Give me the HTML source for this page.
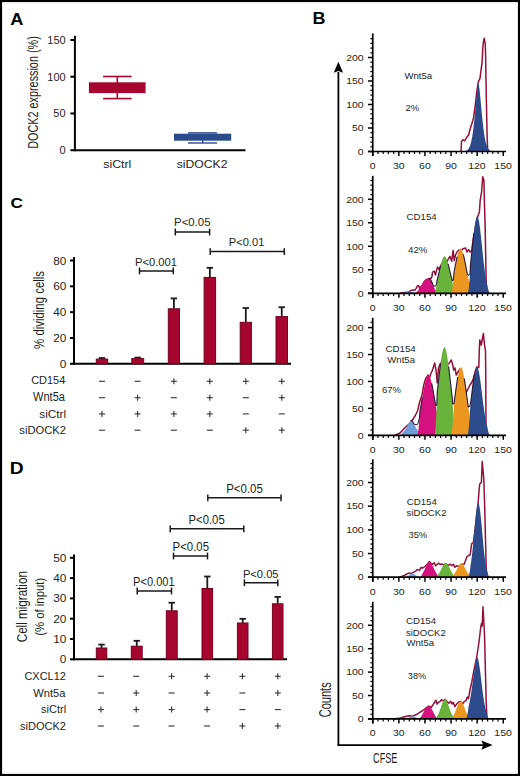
<!DOCTYPE html><html><head><meta charset="utf-8"><style>html,body{margin:0;padding:0;background:#fff}svg{display:block}text{font-family:'Liberation Sans',sans-serif}</style></head><body>
<svg width="520" height="776" viewBox="0 0 520 776">
<rect x="0" y="0" width="520" height="776" fill="#fff"/>
<text x="10.34" y="24.60" font-size="16.09" textLength="13.15" lengthAdjust="spacingAndGlyphs" fill="#000" font-weight="bold">A</text>
<text x="312.58" y="24.30" font-size="16.81" textLength="13.02" lengthAdjust="spacingAndGlyphs" fill="#000" font-weight="bold">B</text>
<text x="10.56" y="207.85" font-size="14.79" textLength="12.40" lengthAdjust="spacingAndGlyphs" fill="#000" font-weight="bold">C</text>
<text x="9.75" y="473.90" font-size="16.81" textLength="13.86" lengthAdjust="spacingAndGlyphs" fill="#000" font-weight="bold">D</text>
<line x1="74.90" y1="35.80" x2="74.90" y2="151.20" stroke="#000" stroke-width="2"/>
<line x1="73.90" y1="150.20" x2="245.50" y2="150.20" stroke="#000" stroke-width="2"/>
<line x1="70.40" y1="150.20" x2="74.90" y2="150.20" stroke="#000" stroke-width="2"/>
<text x="59.49" y="153.99" font-size="10.99" textLength="6.11" lengthAdjust="spacingAndGlyphs" fill="#231f20">0</text>
<line x1="70.40" y1="113.47" x2="74.90" y2="113.47" stroke="#000" stroke-width="2"/>
<text x="53.39" y="117.26" font-size="10.99" textLength="12.22" lengthAdjust="spacingAndGlyphs" fill="#231f20">50</text>
<line x1="70.40" y1="76.73" x2="74.90" y2="76.73" stroke="#000" stroke-width="2"/>
<text x="47.29" y="80.52" font-size="10.99" textLength="18.33" lengthAdjust="spacingAndGlyphs" fill="#231f20">100</text>
<line x1="70.40" y1="40.00" x2="74.90" y2="40.00" stroke="#000" stroke-width="2"/>
<text x="47.29" y="43.79" font-size="10.99" textLength="18.33" lengthAdjust="spacingAndGlyphs" fill="#231f20">150</text>
<text transform="translate(37.90,148.77) rotate(-90)" x="0" y="0" font-size="15.36" textLength="112.54" lengthAdjust="spacingAndGlyphs" fill="#231f20">DOCK2 expression (%)</text>
<text x="103.23" y="168.19" font-size="11.02" textLength="28.10" lengthAdjust="spacingAndGlyphs" fill="#231f20">siCtrl</text>
<text x="176.73" y="168.19" font-size="11.02" textLength="50.81" lengthAdjust="spacingAndGlyphs" fill="#231f20">siDOCK2</text>
<line x1="117.30" y1="76.50" x2="117.30" y2="98.60" stroke="#a6052f" stroke-width="1.6"/>
<line x1="103.10" y1="76.50" x2="131.60" y2="76.50" stroke="#a6052f" stroke-width="1.6"/>
<line x1="103.10" y1="98.60" x2="131.60" y2="98.60" stroke="#a6052f" stroke-width="1.6"/>
<rect x="88.90" y="82.30" width="56.70" height="10.80" fill="#a6052f"/>
<rect x="174.00" y="133.70" width="57.20" height="7.00" fill="#2c4b8c"/>
<line x1="188.00" y1="132.90" x2="217.00" y2="132.90" stroke="#2c4b8c" stroke-width="1.5"/>
<line x1="188.00" y1="143.00" x2="217.00" y2="143.00" stroke="#2c4b8c" stroke-width="1.4"/>
<line x1="202.70" y1="140.00" x2="202.70" y2="143.00" stroke="#2c4b8c" stroke-width="1.4"/>
<line x1="74.00" y1="257.00" x2="74.00" y2="364.80" stroke="#000" stroke-width="2"/>
<line x1="73.00" y1="363.80" x2="291.10" y2="363.80" stroke="#000" stroke-width="2"/>
<line x1="70.00" y1="363.80" x2="74.00" y2="363.80" stroke="#000" stroke-width="2"/>
<text x="59.85" y="367.88" font-size="11.83" textLength="6.58" lengthAdjust="spacingAndGlyphs" fill="#231f20">0</text>
<line x1="70.00" y1="337.98" x2="74.00" y2="337.98" stroke="#000" stroke-width="2"/>
<text x="53.28" y="342.06" font-size="11.83" textLength="13.16" lengthAdjust="spacingAndGlyphs" fill="#231f20">20</text>
<line x1="70.00" y1="312.15" x2="74.00" y2="312.15" stroke="#000" stroke-width="2"/>
<text x="53.28" y="316.23" font-size="11.83" textLength="13.16" lengthAdjust="spacingAndGlyphs" fill="#231f20">40</text>
<line x1="70.00" y1="286.33" x2="74.00" y2="286.33" stroke="#000" stroke-width="2"/>
<text x="53.28" y="290.41" font-size="11.83" textLength="13.16" lengthAdjust="spacingAndGlyphs" fill="#231f20">60</text>
<line x1="70.00" y1="260.50" x2="74.00" y2="260.50" stroke="#000" stroke-width="2"/>
<text x="53.28" y="264.58" font-size="11.83" textLength="13.16" lengthAdjust="spacingAndGlyphs" fill="#231f20">80</text>
<line x1="102.00" y1="359.10" x2="102.00" y2="358.00" stroke="#1a1a1a" stroke-width="1.8"/>
<line x1="98.80" y1="358.00" x2="105.20" y2="358.00" stroke="#1a1a1a" stroke-width="1.8"/>
<rect x="96.30" y="359.10" width="11.40" height="4.70" fill="#a6052f" stroke="#74001c" stroke-width="1"/>
<line x1="137.75" y1="358.60" x2="137.75" y2="357.60" stroke="#1a1a1a" stroke-width="1.8"/>
<line x1="134.55" y1="357.60" x2="140.95" y2="357.60" stroke="#1a1a1a" stroke-width="1.8"/>
<rect x="131.80" y="358.60" width="11.90" height="5.20" fill="#a6052f" stroke="#74001c" stroke-width="1"/>
<line x1="173.90" y1="308.80" x2="173.90" y2="298.40" stroke="#1a1a1a" stroke-width="1.8"/>
<line x1="170.70" y1="298.40" x2="177.10" y2="298.40" stroke="#1a1a1a" stroke-width="1.8"/>
<rect x="168.30" y="308.80" width="11.20" height="55.00" fill="#a6052f" stroke="#74001c" stroke-width="1"/>
<line x1="209.85" y1="277.40" x2="209.85" y2="267.80" stroke="#1a1a1a" stroke-width="1.8"/>
<line x1="206.65" y1="267.80" x2="213.05" y2="267.80" stroke="#1a1a1a" stroke-width="1.8"/>
<rect x="204.10" y="277.40" width="11.50" height="86.40" fill="#a6052f" stroke="#74001c" stroke-width="1"/>
<line x1="245.80" y1="322.30" x2="245.80" y2="308.00" stroke="#1a1a1a" stroke-width="1.8"/>
<line x1="242.60" y1="308.00" x2="249.00" y2="308.00" stroke="#1a1a1a" stroke-width="1.8"/>
<rect x="240.20" y="322.30" width="11.20" height="41.50" fill="#a6052f" stroke="#74001c" stroke-width="1"/>
<line x1="281.75" y1="316.60" x2="281.75" y2="307.20" stroke="#1a1a1a" stroke-width="1.8"/>
<line x1="278.55" y1="307.20" x2="284.95" y2="307.20" stroke="#1a1a1a" stroke-width="1.8"/>
<rect x="276.00" y="316.60" width="11.50" height="47.20" fill="#a6052f" stroke="#74001c" stroke-width="1"/>
<line x1="99.00" y1="381.30" x2="105.00" y2="381.30" stroke="#333" stroke-width="1.1"/>
<line x1="134.60" y1="381.30" x2="140.60" y2="381.30" stroke="#333" stroke-width="1.1"/>
<line x1="170.90" y1="381.30" x2="176.90" y2="381.30" stroke="#333" stroke-width="1.1"/>
<line x1="173.90" y1="378.30" x2="173.90" y2="384.30" stroke="#333" stroke-width="1.1"/>
<line x1="206.80" y1="381.30" x2="212.80" y2="381.30" stroke="#333" stroke-width="1.1"/>
<line x1="209.80" y1="378.30" x2="209.80" y2="384.30" stroke="#333" stroke-width="1.1"/>
<line x1="242.80" y1="381.30" x2="248.80" y2="381.30" stroke="#333" stroke-width="1.1"/>
<line x1="245.80" y1="378.30" x2="245.80" y2="384.30" stroke="#333" stroke-width="1.1"/>
<line x1="278.80" y1="381.30" x2="284.80" y2="381.30" stroke="#333" stroke-width="1.1"/>
<line x1="281.80" y1="378.30" x2="281.80" y2="384.30" stroke="#333" stroke-width="1.1"/>
<line x1="99.00" y1="397.70" x2="105.00" y2="397.70" stroke="#333" stroke-width="1.1"/>
<line x1="134.60" y1="397.70" x2="140.60" y2="397.70" stroke="#333" stroke-width="1.1"/>
<line x1="137.60" y1="394.70" x2="137.60" y2="400.70" stroke="#333" stroke-width="1.1"/>
<line x1="170.90" y1="397.70" x2="176.90" y2="397.70" stroke="#333" stroke-width="1.1"/>
<line x1="206.80" y1="397.70" x2="212.80" y2="397.70" stroke="#333" stroke-width="1.1"/>
<line x1="209.80" y1="394.70" x2="209.80" y2="400.70" stroke="#333" stroke-width="1.1"/>
<line x1="242.80" y1="397.70" x2="248.80" y2="397.70" stroke="#333" stroke-width="1.1"/>
<line x1="278.80" y1="397.70" x2="284.80" y2="397.70" stroke="#333" stroke-width="1.1"/>
<line x1="281.80" y1="394.70" x2="281.80" y2="400.70" stroke="#333" stroke-width="1.1"/>
<line x1="99.00" y1="413.90" x2="105.00" y2="413.90" stroke="#333" stroke-width="1.1"/>
<line x1="102.00" y1="410.90" x2="102.00" y2="416.90" stroke="#333" stroke-width="1.1"/>
<line x1="134.60" y1="413.90" x2="140.60" y2="413.90" stroke="#333" stroke-width="1.1"/>
<line x1="137.60" y1="410.90" x2="137.60" y2="416.90" stroke="#333" stroke-width="1.1"/>
<line x1="170.90" y1="413.90" x2="176.90" y2="413.90" stroke="#333" stroke-width="1.1"/>
<line x1="173.90" y1="410.90" x2="173.90" y2="416.90" stroke="#333" stroke-width="1.1"/>
<line x1="206.80" y1="413.90" x2="212.80" y2="413.90" stroke="#333" stroke-width="1.1"/>
<line x1="209.80" y1="410.90" x2="209.80" y2="416.90" stroke="#333" stroke-width="1.1"/>
<line x1="242.80" y1="413.90" x2="248.80" y2="413.90" stroke="#333" stroke-width="1.1"/>
<line x1="278.80" y1="413.90" x2="284.80" y2="413.90" stroke="#333" stroke-width="1.1"/>
<line x1="99.00" y1="430.20" x2="105.00" y2="430.20" stroke="#333" stroke-width="1.1"/>
<line x1="134.60" y1="430.20" x2="140.60" y2="430.20" stroke="#333" stroke-width="1.1"/>
<line x1="170.90" y1="430.20" x2="176.90" y2="430.20" stroke="#333" stroke-width="1.1"/>
<line x1="206.80" y1="430.20" x2="212.80" y2="430.20" stroke="#333" stroke-width="1.1"/>
<line x1="242.80" y1="430.20" x2="248.80" y2="430.20" stroke="#333" stroke-width="1.1"/>
<line x1="245.80" y1="427.20" x2="245.80" y2="433.20" stroke="#333" stroke-width="1.1"/>
<line x1="278.80" y1="430.20" x2="284.80" y2="430.20" stroke="#333" stroke-width="1.1"/>
<line x1="281.80" y1="427.20" x2="281.80" y2="433.20" stroke="#333" stroke-width="1.1"/>
<text x="31.15" y="383.70" font-size="10.42" textLength="34.11" lengthAdjust="spacingAndGlyphs" fill="#231f20">CD154</text>
<text x="33.04" y="400.88" font-size="11.86" textLength="31.96" lengthAdjust="spacingAndGlyphs" fill="#231f20">Wnt5a</text>
<text x="39.35" y="417.78" font-size="11.70" textLength="26.74" lengthAdjust="spacingAndGlyphs" fill="#231f20">siCtrl</text>
<text x="19.36" y="434.49" font-size="11.29" textLength="46.62" lengthAdjust="spacingAndGlyphs" fill="#231f20">siDOCK2</text>
<text transform="translate(44.20,348.90) rotate(-90)" x="0" y="0" font-size="15.36" textLength="77.92" lengthAdjust="spacingAndGlyphs" fill="#231f20">% dividing cells</text>
<line x1="139.50" y1="270.90" x2="173.30" y2="270.90" stroke="#1a1a1a" stroke-width="1.5"/>
<line x1="139.50" y1="267.50" x2="139.50" y2="274.30" stroke="#1a1a1a" stroke-width="1.5"/>
<line x1="173.30" y1="267.50" x2="173.30" y2="274.30" stroke="#1a1a1a" stroke-width="1.5"/>
<text x="135.11" y="265.59" font-size="10.70" textLength="41.83" lengthAdjust="spacingAndGlyphs" fill="#231f20">P&lt;0.001</text>
<line x1="175.30" y1="232.00" x2="209.60" y2="232.00" stroke="#1a1a1a" stroke-width="1.5"/>
<line x1="175.30" y1="228.60" x2="175.30" y2="235.40" stroke="#1a1a1a" stroke-width="1.5"/>
<line x1="209.60" y1="228.60" x2="209.60" y2="235.40" stroke="#1a1a1a" stroke-width="1.5"/>
<text x="174.09" y="225.80" font-size="10.14" textLength="36.39" lengthAdjust="spacingAndGlyphs" fill="#231f20">P&lt;0.05</text>
<line x1="210.20" y1="251.60" x2="284.30" y2="251.60" stroke="#1a1a1a" stroke-width="1.5"/>
<line x1="210.20" y1="248.20" x2="210.20" y2="255.00" stroke="#1a1a1a" stroke-width="1.5"/>
<line x1="284.30" y1="248.20" x2="284.30" y2="255.00" stroke="#1a1a1a" stroke-width="1.5"/>
<text x="228.81" y="245.99" font-size="10.99" textLength="35.51" lengthAdjust="spacingAndGlyphs" fill="#231f20">P&lt;0.01</text>
<line x1="74.00" y1="554.50" x2="74.00" y2="660.30" stroke="#000" stroke-width="2"/>
<line x1="73.00" y1="659.30" x2="287.00" y2="659.30" stroke="#000" stroke-width="2"/>
<line x1="70.00" y1="659.30" x2="74.00" y2="659.30" stroke="#000" stroke-width="2"/>
<text x="59.85" y="663.38" font-size="11.83" textLength="6.58" lengthAdjust="spacingAndGlyphs" fill="#231f20">0</text>
<line x1="70.00" y1="639.00" x2="74.00" y2="639.00" stroke="#000" stroke-width="2"/>
<text x="53.28" y="643.08" font-size="11.83" textLength="13.16" lengthAdjust="spacingAndGlyphs" fill="#231f20">10</text>
<line x1="70.00" y1="618.70" x2="74.00" y2="618.70" stroke="#000" stroke-width="2"/>
<text x="53.28" y="622.78" font-size="11.83" textLength="13.16" lengthAdjust="spacingAndGlyphs" fill="#231f20">20</text>
<line x1="70.00" y1="598.40" x2="74.00" y2="598.40" stroke="#000" stroke-width="2"/>
<text x="53.28" y="602.48" font-size="11.83" textLength="13.16" lengthAdjust="spacingAndGlyphs" fill="#231f20">30</text>
<line x1="70.00" y1="578.10" x2="74.00" y2="578.10" stroke="#000" stroke-width="2"/>
<text x="53.28" y="582.18" font-size="11.83" textLength="13.16" lengthAdjust="spacingAndGlyphs" fill="#231f20">40</text>
<line x1="70.00" y1="557.80" x2="74.00" y2="557.80" stroke="#000" stroke-width="2"/>
<text x="53.28" y="561.88" font-size="11.83" textLength="13.16" lengthAdjust="spacingAndGlyphs" fill="#231f20">50</text>
<line x1="101.55" y1="648.00" x2="101.55" y2="644.60" stroke="#1a1a1a" stroke-width="1.8"/>
<line x1="98.35" y1="644.60" x2="104.75" y2="644.60" stroke="#1a1a1a" stroke-width="1.8"/>
<rect x="96.30" y="648.00" width="10.50" height="11.30" fill="#a6052f" stroke="#74001c" stroke-width="1"/>
<line x1="136.75" y1="646.20" x2="136.75" y2="640.80" stroke="#1a1a1a" stroke-width="1.8"/>
<line x1="133.55" y1="640.80" x2="139.95" y2="640.80" stroke="#1a1a1a" stroke-width="1.8"/>
<rect x="131.30" y="646.20" width="10.90" height="13.10" fill="#a6052f" stroke="#74001c" stroke-width="1"/>
<line x1="171.75" y1="610.80" x2="171.75" y2="602.70" stroke="#1a1a1a" stroke-width="1.8"/>
<line x1="168.55" y1="602.70" x2="174.95" y2="602.70" stroke="#1a1a1a" stroke-width="1.8"/>
<rect x="166.30" y="610.80" width="10.90" height="48.50" fill="#a6052f" stroke="#74001c" stroke-width="1"/>
<line x1="207.30" y1="588.50" x2="207.30" y2="576.50" stroke="#1a1a1a" stroke-width="1.8"/>
<line x1="204.10" y1="576.50" x2="210.50" y2="576.50" stroke="#1a1a1a" stroke-width="1.8"/>
<rect x="202.00" y="588.50" width="10.60" height="70.80" fill="#a6052f" stroke="#74001c" stroke-width="1"/>
<line x1="242.70" y1="623.00" x2="242.70" y2="618.80" stroke="#1a1a1a" stroke-width="1.8"/>
<line x1="239.50" y1="618.80" x2="245.90" y2="618.80" stroke="#1a1a1a" stroke-width="1.8"/>
<rect x="237.40" y="623.00" width="10.60" height="36.30" fill="#a6052f" stroke="#74001c" stroke-width="1"/>
<line x1="277.70" y1="603.80" x2="277.70" y2="596.90" stroke="#1a1a1a" stroke-width="1.8"/>
<line x1="274.50" y1="596.90" x2="280.90" y2="596.90" stroke="#1a1a1a" stroke-width="1.8"/>
<rect x="272.40" y="603.80" width="10.60" height="55.50" fill="#a6052f" stroke="#74001c" stroke-width="1"/>
<line x1="97.90" y1="676.30" x2="103.90" y2="676.30" stroke="#333" stroke-width="1.1"/>
<line x1="133.20" y1="676.30" x2="139.20" y2="676.30" stroke="#333" stroke-width="1.1"/>
<line x1="168.60" y1="676.30" x2="174.60" y2="676.30" stroke="#333" stroke-width="1.1"/>
<line x1="171.60" y1="673.30" x2="171.60" y2="679.30" stroke="#333" stroke-width="1.1"/>
<line x1="204.10" y1="676.30" x2="210.10" y2="676.30" stroke="#333" stroke-width="1.1"/>
<line x1="207.10" y1="673.30" x2="207.10" y2="679.30" stroke="#333" stroke-width="1.1"/>
<line x1="239.40" y1="676.30" x2="245.40" y2="676.30" stroke="#333" stroke-width="1.1"/>
<line x1="242.40" y1="673.30" x2="242.40" y2="679.30" stroke="#333" stroke-width="1.1"/>
<line x1="274.80" y1="676.30" x2="280.80" y2="676.30" stroke="#333" stroke-width="1.1"/>
<line x1="277.80" y1="673.30" x2="277.80" y2="679.30" stroke="#333" stroke-width="1.1"/>
<line x1="97.90" y1="693.00" x2="103.90" y2="693.00" stroke="#333" stroke-width="1.1"/>
<line x1="133.20" y1="693.00" x2="139.20" y2="693.00" stroke="#333" stroke-width="1.1"/>
<line x1="136.20" y1="690.00" x2="136.20" y2="696.00" stroke="#333" stroke-width="1.1"/>
<line x1="168.60" y1="693.00" x2="174.60" y2="693.00" stroke="#333" stroke-width="1.1"/>
<line x1="204.10" y1="693.00" x2="210.10" y2="693.00" stroke="#333" stroke-width="1.1"/>
<line x1="207.10" y1="690.00" x2="207.10" y2="696.00" stroke="#333" stroke-width="1.1"/>
<line x1="239.40" y1="693.00" x2="245.40" y2="693.00" stroke="#333" stroke-width="1.1"/>
<line x1="274.80" y1="693.00" x2="280.80" y2="693.00" stroke="#333" stroke-width="1.1"/>
<line x1="277.80" y1="690.00" x2="277.80" y2="696.00" stroke="#333" stroke-width="1.1"/>
<line x1="97.90" y1="709.60" x2="103.90" y2="709.60" stroke="#333" stroke-width="1.1"/>
<line x1="100.90" y1="706.60" x2="100.90" y2="712.60" stroke="#333" stroke-width="1.1"/>
<line x1="133.20" y1="709.60" x2="139.20" y2="709.60" stroke="#333" stroke-width="1.1"/>
<line x1="136.20" y1="706.60" x2="136.20" y2="712.60" stroke="#333" stroke-width="1.1"/>
<line x1="168.60" y1="709.60" x2="174.60" y2="709.60" stroke="#333" stroke-width="1.1"/>
<line x1="171.60" y1="706.60" x2="171.60" y2="712.60" stroke="#333" stroke-width="1.1"/>
<line x1="204.10" y1="709.60" x2="210.10" y2="709.60" stroke="#333" stroke-width="1.1"/>
<line x1="207.10" y1="706.60" x2="207.10" y2="712.60" stroke="#333" stroke-width="1.1"/>
<line x1="239.40" y1="709.60" x2="245.40" y2="709.60" stroke="#333" stroke-width="1.1"/>
<line x1="274.80" y1="709.60" x2="280.80" y2="709.60" stroke="#333" stroke-width="1.1"/>
<line x1="97.90" y1="726.00" x2="103.90" y2="726.00" stroke="#333" stroke-width="1.1"/>
<line x1="133.20" y1="726.00" x2="139.20" y2="726.00" stroke="#333" stroke-width="1.1"/>
<line x1="168.60" y1="726.00" x2="174.60" y2="726.00" stroke="#333" stroke-width="1.1"/>
<line x1="204.10" y1="726.00" x2="210.10" y2="726.00" stroke="#333" stroke-width="1.1"/>
<line x1="239.40" y1="726.00" x2="245.40" y2="726.00" stroke="#333" stroke-width="1.1"/>
<line x1="242.40" y1="723.00" x2="242.40" y2="729.00" stroke="#333" stroke-width="1.1"/>
<line x1="274.80" y1="726.00" x2="280.80" y2="726.00" stroke="#333" stroke-width="1.1"/>
<line x1="277.80" y1="723.00" x2="277.80" y2="729.00" stroke="#333" stroke-width="1.1"/>
<text x="24.45" y="680.29" font-size="11.41" textLength="41.50" lengthAdjust="spacingAndGlyphs" fill="#231f20">CXCL12</text>
<text x="33.24" y="696.69" font-size="11.14" textLength="32.16" lengthAdjust="spacingAndGlyphs" fill="#231f20">Wnt5a</text>
<text x="41.04" y="713.49" font-size="11.02" textLength="25.10" lengthAdjust="spacingAndGlyphs" fill="#231f20">siCtrl</text>
<text x="20.05" y="729.89" font-size="11.02" textLength="45.93" lengthAdjust="spacingAndGlyphs" fill="#231f20">siDOCK2</text>
<text transform="translate(27.40,642.28) rotate(-90)" x="0" y="0" font-size="15.36" textLength="71.18" lengthAdjust="spacingAndGlyphs" fill="#231f20">Cell migration</text>
<text transform="translate(44.00,635.78) rotate(-90)" x="0" y="0" font-size="13.62" textLength="58.00" lengthAdjust="spacingAndGlyphs" fill="#231f20">(% of input)</text>
<line x1="207.80" y1="497.80" x2="281.00" y2="497.80" stroke="#1a1a1a" stroke-width="1.5"/>
<line x1="207.80" y1="494.40" x2="207.80" y2="501.20" stroke="#1a1a1a" stroke-width="1.5"/>
<line x1="281.00" y1="494.40" x2="281.00" y2="501.20" stroke="#1a1a1a" stroke-width="1.5"/>
<text x="226.18" y="492.77" font-size="12.96" textLength="36.70" lengthAdjust="spacingAndGlyphs" fill="#231f20">P&lt;0.05</text>
<line x1="170.20" y1="528.80" x2="243.80" y2="528.80" stroke="#1a1a1a" stroke-width="1.5"/>
<line x1="170.20" y1="525.40" x2="170.20" y2="532.20" stroke="#1a1a1a" stroke-width="1.5"/>
<line x1="243.80" y1="525.40" x2="243.80" y2="532.20" stroke="#1a1a1a" stroke-width="1.5"/>
<text x="188.60" y="523.87" font-size="12.54" textLength="36.08" lengthAdjust="spacingAndGlyphs" fill="#231f20">P&lt;0.05</text>
<line x1="173.50" y1="556.00" x2="207.50" y2="556.00" stroke="#1a1a1a" stroke-width="1.5"/>
<line x1="173.50" y1="552.60" x2="173.50" y2="559.40" stroke="#1a1a1a" stroke-width="1.5"/>
<line x1="207.50" y1="552.60" x2="207.50" y2="559.40" stroke="#1a1a1a" stroke-width="1.5"/>
<text x="172.59" y="550.98" font-size="11.97" textLength="36.39" lengthAdjust="spacingAndGlyphs" fill="#231f20">P&lt;0.05</text>
<line x1="137.20" y1="591.00" x2="171.50" y2="591.00" stroke="#1a1a1a" stroke-width="1.5"/>
<line x1="137.20" y1="587.60" x2="137.20" y2="594.40" stroke="#1a1a1a" stroke-width="1.5"/>
<line x1="171.50" y1="587.60" x2="171.50" y2="594.40" stroke="#1a1a1a" stroke-width="1.5"/>
<text x="133.12" y="585.88" font-size="12.39" textLength="41.52" lengthAdjust="spacingAndGlyphs" fill="#231f20">P&lt;0.001</text>
<line x1="244.40" y1="582.80" x2="277.80" y2="582.80" stroke="#1a1a1a" stroke-width="1.5"/>
<line x1="244.40" y1="579.40" x2="244.40" y2="586.20" stroke="#1a1a1a" stroke-width="1.5"/>
<line x1="277.80" y1="579.40" x2="277.80" y2="586.20" stroke="#1a1a1a" stroke-width="1.5"/>
<text x="242.91" y="577.78" font-size="11.55" textLength="35.66" lengthAdjust="spacingAndGlyphs" fill="#231f20">P&lt;0.05</text>
<polyline points="461.10,151.50 461.50,141.30 463.10,139.70 464.70,140.80 466.30,138.00 468.70,134.80 470.30,128.40 471.90,123.50 473.50,117.90 475.20,105.80 476.80,91.30 478.40,81.60 480.00,78.40 480.80,71.90 482.10,62.30 482.70,49.40 483.40,42.00 484.20,38.30 485.30,44.00 485.70,60.00 485.90,75.00 486.40,102.60 487.10,134.80 487.70,151.50" fill="none" stroke="#92113a" stroke-width="1.5" stroke-linejoin="round"/>
<path d="M461.00,151.50 L461.00,151.50 L461.25,151.50 L461.50,151.50 L461.75,151.50 L462.00,151.49 L462.25,151.48 L462.50,151.47 L462.75,151.46 L463.00,151.44 L463.25,151.41 L463.50,151.39 L463.75,151.35 L464.00,151.30 L464.25,151.27 L464.50,151.23 L464.75,151.18 L465.00,151.12 L465.25,151.06 L465.50,150.99 L465.75,150.91 L466.00,150.81 L466.25,150.70 L466.50,150.58 L466.75,150.43 L467.00,150.27 L467.25,150.08 L467.50,149.87 L467.75,149.64 L468.00,149.37 L468.25,149.07 L468.50,148.73 L468.75,148.35 L469.00,147.92 L469.25,147.45 L469.50,146.92 L469.75,146.34 L470.00,145.69 L470.25,144.97 L470.50,144.18 L470.75,143.31 L471.00,142.36 L471.25,141.33 L471.50,140.19 L471.75,138.97 L472.00,137.64 L472.25,136.20 L472.50,134.66 L472.75,133.00 L473.00,131.24 L473.25,129.36 L473.50,127.36 L473.75,125.26 L474.00,123.05 L474.25,120.73 L474.50,118.32 L474.75,115.82 L475.00,113.25 L475.25,110.61 L475.50,107.92 L475.75,105.21 L476.00,102.50 L476.25,99.80 L476.50,97.15 L476.75,94.58 L477.00,92.13 L477.25,89.84 L477.50,87.76 L477.75,85.95 L478.00,84.48 L478.25,83.47 L478.50,83.34 L478.75,84.23 L479.00,85.62 L479.25,87.38 L479.50,89.41 L479.75,91.66 L480.00,94.08 L480.25,96.63 L480.50,99.26 L480.75,101.95 L481.00,104.67 L481.25,107.38 L481.50,110.07 L481.75,112.72 L482.00,115.31 L482.25,117.83 L482.50,120.26 L482.75,122.59 L483.00,124.82 L483.25,126.95 L483.50,128.97 L483.75,130.87 L484.00,132.66 L484.25,134.34 L484.50,135.90 L484.75,137.36 L485.00,138.71 L485.25,139.96 L485.50,141.11 L485.75,142.16 L486.00,143.13 L486.25,144.01 L486.50,144.82 L486.75,145.55 L487.00,146.21 L487.25,146.81 L487.50,147.35 L487.75,147.83 L488.00,148.27 L488.25,148.66 L488.50,149.00 L488.75,149.31 L489.00,149.59 L489.25,149.83 L489.50,150.04 L489.75,150.23 L490.00,150.40 L490.25,150.55 L490.50,150.68 L490.75,150.79 L491.00,150.89 L491.25,150.97 L491.50,151.05 L491.75,151.11 L492.00,151.17 L492.25,151.22 L492.50,151.26 L492.75,151.29 L493.00,151.33 L493.25,151.37 L493.50,151.40 L493.75,151.43 L494.00,151.45 L494.25,151.46 L494.50,151.47 L494.75,151.48 L495.00,151.49 L495.25,151.50 L495.50,151.50 L495.75,151.50 L496.00,151.50 L496.00,151.50 Z" fill="#2d4a8a"/>
<line x1="372.75" y1="33.40" x2="372.75" y2="156.00" stroke="#000" stroke-width="1.7"/>
<line x1="367.95" y1="151.50" x2="506.00" y2="151.50" stroke="#000" stroke-width="1.7"/>
<line x1="367.95" y1="151.50" x2="372.75" y2="151.50" stroke="#000" stroke-width="1.5"/>
<line x1="370.35" y1="146.80" x2="372.75" y2="146.80" stroke="#000" stroke-width="1.2"/>
<line x1="370.35" y1="142.10" x2="372.75" y2="142.10" stroke="#000" stroke-width="1.2"/>
<line x1="370.35" y1="137.40" x2="372.75" y2="137.40" stroke="#000" stroke-width="1.2"/>
<line x1="370.35" y1="132.70" x2="372.75" y2="132.70" stroke="#000" stroke-width="1.2"/>
<line x1="367.95" y1="128.00" x2="372.75" y2="128.00" stroke="#000" stroke-width="1.5"/>
<line x1="370.35" y1="123.30" x2="372.75" y2="123.30" stroke="#000" stroke-width="1.2"/>
<line x1="370.35" y1="118.60" x2="372.75" y2="118.60" stroke="#000" stroke-width="1.2"/>
<line x1="370.35" y1="113.90" x2="372.75" y2="113.90" stroke="#000" stroke-width="1.2"/>
<line x1="370.35" y1="109.20" x2="372.75" y2="109.20" stroke="#000" stroke-width="1.2"/>
<line x1="367.95" y1="104.50" x2="372.75" y2="104.50" stroke="#000" stroke-width="1.5"/>
<line x1="370.35" y1="99.80" x2="372.75" y2="99.80" stroke="#000" stroke-width="1.2"/>
<line x1="370.35" y1="95.10" x2="372.75" y2="95.10" stroke="#000" stroke-width="1.2"/>
<line x1="370.35" y1="90.40" x2="372.75" y2="90.40" stroke="#000" stroke-width="1.2"/>
<line x1="370.35" y1="85.70" x2="372.75" y2="85.70" stroke="#000" stroke-width="1.2"/>
<line x1="367.95" y1="81.00" x2="372.75" y2="81.00" stroke="#000" stroke-width="1.5"/>
<line x1="370.35" y1="76.30" x2="372.75" y2="76.30" stroke="#000" stroke-width="1.2"/>
<line x1="370.35" y1="71.60" x2="372.75" y2="71.60" stroke="#000" stroke-width="1.2"/>
<line x1="370.35" y1="66.90" x2="372.75" y2="66.90" stroke="#000" stroke-width="1.2"/>
<line x1="370.35" y1="62.20" x2="372.75" y2="62.20" stroke="#000" stroke-width="1.2"/>
<line x1="367.95" y1="57.50" x2="372.75" y2="57.50" stroke="#000" stroke-width="1.5"/>
<line x1="370.35" y1="52.80" x2="372.75" y2="52.80" stroke="#000" stroke-width="1.2"/>
<line x1="370.35" y1="48.10" x2="372.75" y2="48.10" stroke="#000" stroke-width="1.2"/>
<line x1="370.35" y1="43.40" x2="372.75" y2="43.40" stroke="#000" stroke-width="1.2"/>
<line x1="370.35" y1="38.70" x2="372.75" y2="38.70" stroke="#000" stroke-width="1.2"/>
<text x="357.84" y="154.75" font-size="9.72" textLength="5.84" lengthAdjust="spacingAndGlyphs" fill="#231f20">0</text>
<text x="352.02" y="131.25" font-size="9.72" textLength="11.67" lengthAdjust="spacingAndGlyphs" fill="#231f20">50</text>
<text x="346.19" y="107.75" font-size="9.72" textLength="17.51" lengthAdjust="spacingAndGlyphs" fill="#231f20">100</text>
<text x="346.19" y="84.25" font-size="9.72" textLength="17.51" lengthAdjust="spacingAndGlyphs" fill="#231f20">150</text>
<text x="346.19" y="60.75" font-size="9.72" textLength="17.51" lengthAdjust="spacingAndGlyphs" fill="#231f20">200</text>
<line x1="372.75" y1="151.50" x2="372.75" y2="156.00" stroke="#000" stroke-width="1.5"/>
<line x1="377.97" y1="151.50" x2="377.97" y2="154.10" stroke="#000" stroke-width="1.2"/>
<line x1="383.19" y1="151.50" x2="383.19" y2="154.10" stroke="#000" stroke-width="1.2"/>
<line x1="388.41" y1="151.50" x2="388.41" y2="154.10" stroke="#000" stroke-width="1.2"/>
<line x1="393.63" y1="151.50" x2="393.63" y2="154.10" stroke="#000" stroke-width="1.2"/>
<line x1="398.85" y1="151.50" x2="398.85" y2="156.00" stroke="#000" stroke-width="1.5"/>
<line x1="404.07" y1="151.50" x2="404.07" y2="154.10" stroke="#000" stroke-width="1.2"/>
<line x1="409.29" y1="151.50" x2="409.29" y2="154.10" stroke="#000" stroke-width="1.2"/>
<line x1="414.51" y1="151.50" x2="414.51" y2="154.10" stroke="#000" stroke-width="1.2"/>
<line x1="419.73" y1="151.50" x2="419.73" y2="154.10" stroke="#000" stroke-width="1.2"/>
<line x1="424.95" y1="151.50" x2="424.95" y2="156.00" stroke="#000" stroke-width="1.5"/>
<line x1="430.17" y1="151.50" x2="430.17" y2="154.10" stroke="#000" stroke-width="1.2"/>
<line x1="435.39" y1="151.50" x2="435.39" y2="154.10" stroke="#000" stroke-width="1.2"/>
<line x1="440.61" y1="151.50" x2="440.61" y2="154.10" stroke="#000" stroke-width="1.2"/>
<line x1="445.83" y1="151.50" x2="445.83" y2="154.10" stroke="#000" stroke-width="1.2"/>
<line x1="451.05" y1="151.50" x2="451.05" y2="156.00" stroke="#000" stroke-width="1.5"/>
<line x1="456.27" y1="151.50" x2="456.27" y2="154.10" stroke="#000" stroke-width="1.2"/>
<line x1="461.49" y1="151.50" x2="461.49" y2="154.10" stroke="#000" stroke-width="1.2"/>
<line x1="466.71" y1="151.50" x2="466.71" y2="154.10" stroke="#000" stroke-width="1.2"/>
<line x1="471.93" y1="151.50" x2="471.93" y2="154.10" stroke="#000" stroke-width="1.2"/>
<line x1="477.15" y1="151.50" x2="477.15" y2="156.00" stroke="#000" stroke-width="1.5"/>
<line x1="482.37" y1="151.50" x2="482.37" y2="154.10" stroke="#000" stroke-width="1.2"/>
<line x1="487.59" y1="151.50" x2="487.59" y2="154.10" stroke="#000" stroke-width="1.2"/>
<line x1="492.81" y1="151.50" x2="492.81" y2="154.10" stroke="#000" stroke-width="1.2"/>
<line x1="498.03" y1="151.50" x2="498.03" y2="154.10" stroke="#000" stroke-width="1.2"/>
<line x1="503.25" y1="151.50" x2="503.25" y2="156.00" stroke="#000" stroke-width="1.5"/>
<text x="369.81" y="168.80" font-size="9.72" textLength="5.84" lengthAdjust="spacingAndGlyphs" fill="#231f20">0</text>
<text x="393.00" y="168.80" font-size="9.72" textLength="11.67" lengthAdjust="spacingAndGlyphs" fill="#231f20">30</text>
<text x="419.05" y="168.80" font-size="9.72" textLength="11.67" lengthAdjust="spacingAndGlyphs" fill="#231f20">60</text>
<text x="445.17" y="168.80" font-size="9.72" textLength="11.67" lengthAdjust="spacingAndGlyphs" fill="#231f20">90</text>
<text x="468.20" y="168.80" font-size="9.72" textLength="17.51" lengthAdjust="spacingAndGlyphs" fill="#231f20">120</text>
<text x="494.30" y="168.80" font-size="9.72" textLength="17.51" lengthAdjust="spacingAndGlyphs" fill="#231f20">150</text>
<text x="404.45" y="79.01" font-size="9.29" textLength="27.75" lengthAdjust="spacingAndGlyphs" fill="#231f20">Wnt5a</text>
<text x="405.53" y="111.35" font-size="9.65" textLength="13.71" lengthAdjust="spacingAndGlyphs" fill="#231f20">2%</text>
<polyline points="400.00,293.30 405.20,292.50 408.70,291.90 411.20,290.50 413.00,289.90 414.70,290.30 416.00,288.60 417.30,286.00 418.60,285.50 419.50,288.60 420.80,286.80 422.50,285.10 424.20,281.60 425.90,279.90 428.50,278.60 431.00,278.60 432.00,276.40 432.50,272.10 434.20,271.20 435.50,275.10 436.30,271.20 437.60,266.90 438.90,269.50 439.80,267.80 441.00,265.00 443.00,262.00 445.00,260.00 447.00,262.00 448.40,258.80 450.00,256.30 451.70,261.30 453.10,250.40 454.20,260.50 455.50,255.00 457.00,252.00 459.00,250.00 461.00,251.00 462.50,249.00 465.50,248.00 467.00,252.10 468.50,249.60 470.20,252.10 471.80,250.40 473.00,240.60 474.40,233.70 476.00,223.60 477.60,217.00 479.40,211.90 480.20,200.20 481.60,191.80 482.70,176.70 483.90,180.00 484.50,205.00 485.20,228.70 485.80,262.20 486.30,288.50 486.80,293.30" fill="none" stroke="#92113a" stroke-width="1.5" stroke-linejoin="round"/>
<path d="M400.00,293.30 L400.00,293.30 L400.25,293.30 L400.50,293.30 L400.75,293.29 L401.00,293.27 L401.25,293.25 L401.50,293.23 L401.75,293.20 L402.00,293.16 L402.25,293.12 L402.50,293.07 L402.75,293.00 L403.00,292.93 L403.25,292.89 L403.50,292.85 L403.75,292.80 L404.00,292.75 L404.25,292.70 L404.50,292.64 L404.75,292.58 L405.00,292.52 L405.25,292.46 L405.50,292.40 L405.75,292.33 L406.00,292.27 L406.25,292.20 L406.50,292.14 L406.75,292.08 L407.00,292.02 L407.25,291.96 L407.50,291.90 L407.75,291.85 L408.00,291.80 L408.25,291.76 L408.50,291.72 L408.75,291.68 L409.00,291.65 L409.25,291.63 L409.50,291.61 L409.75,291.60 L410.00,291.60 L410.25,291.60 L410.50,291.61 L410.75,291.63 L411.00,291.65 L411.25,291.68 L411.50,291.72 L411.75,291.76 L412.00,291.80 L412.25,291.85 L412.50,291.90 L412.75,291.96 L413.00,292.02 L413.25,292.08 L413.50,292.14 L413.75,292.20 L414.00,292.27 L414.25,292.33 L414.50,292.40 L414.75,292.46 L415.00,292.52 L415.25,292.58 L415.50,292.64 L415.75,292.70 L416.00,292.75 L416.25,292.80 L416.50,292.85 L416.75,292.89 L417.00,292.93 L417.25,293.00 L417.50,293.07 L417.75,293.12 L418.00,293.16 L418.25,293.20 L418.50,293.23 L418.75,293.25 L419.00,293.27 L419.25,293.29 L419.50,293.30 L419.75,293.30 L420.00,293.30 L420.00,293.30 Z" fill="#6f9fd8"/>
<path d="M413.00,293.30 L413.00,293.30 L413.25,293.30 L413.50,293.30 L413.75,293.27 L414.00,293.24 L414.25,293.19 L414.50,293.13 L414.75,293.05 L415.00,292.95 L415.25,292.82 L415.50,292.66 L415.75,292.47 L416.00,292.24 L416.25,292.09 L416.50,291.92 L416.75,291.73 L417.00,291.52 L417.25,291.30 L417.50,291.05 L417.75,290.79 L418.00,290.51 L418.25,290.21 L418.50,289.89 L418.75,289.55 L419.00,289.20 L419.25,288.82 L419.50,288.44 L419.75,288.03 L420.00,287.62 L420.25,287.19 L420.50,286.76 L420.75,286.32 L421.00,285.87 L421.25,285.43 L421.50,284.98 L421.75,284.53 L422.00,284.09 L422.25,283.66 L422.50,283.23 L422.75,282.82 L423.00,282.42 L423.25,282.04 L423.50,281.67 L423.75,281.32 L424.00,280.99 L424.25,280.69 L424.50,280.40 L424.75,280.14 L425.00,279.90 L425.25,279.69 L425.50,279.49 L425.75,279.33 L426.00,279.18 L426.25,279.06 L426.50,278.96 L426.75,278.87 L427.00,278.81 L427.25,278.76 L427.50,278.73 L427.75,278.71 L428.00,278.70 L428.25,278.70 L428.50,278.70 L428.75,278.72 L429.00,278.75 L429.25,278.82 L429.50,278.92 L429.75,279.06 L430.00,279.24 L430.25,279.46 L430.50,279.73 L430.75,280.05 L431.00,280.42 L431.25,280.83 L431.50,281.28 L431.75,281.78 L432.00,282.31 L432.25,282.87 L432.50,283.46 L432.75,284.07 L433.00,284.70 L433.25,285.33 L433.50,285.96 L433.75,286.59 L434.00,287.20 L434.25,287.80 L434.50,288.37 L434.75,288.92 L435.00,289.44 L435.25,289.92 L435.50,290.36 L435.75,291.02 L436.00,291.57 L436.25,292.02 L436.50,292.37 L436.75,292.66 L437.00,292.88 L437.25,293.04 L437.50,293.16 L437.75,293.24 L438.00,293.30 L438.25,293.30 L438.50,293.30 L438.50,293.30 Z" fill="#d4117f"/>
<path d="M434.00,293.30 L434.00,293.30 L434.25,293.30 L434.50,293.30 L434.75,292.68 L435.00,291.95 L435.25,291.10 L435.50,290.10 L435.75,288.95 L436.00,287.65 L436.25,286.17 L436.50,284.50 L436.75,282.64 L437.00,280.58 L437.25,279.67 L437.50,278.73 L437.75,277.76 L438.00,276.77 L438.25,275.75 L438.50,274.71 L438.75,273.65 L439.00,272.58 L439.25,271.51 L439.50,270.43 L439.75,269.35 L440.00,268.28 L440.25,267.22 L440.50,266.19 L440.75,265.17 L441.00,264.18 L441.25,263.23 L441.50,262.32 L441.75,261.46 L442.00,260.65 L442.25,259.89 L442.50,259.20 L442.75,258.57 L443.00,258.01 L443.25,257.53 L443.50,257.12 L443.75,256.79 L444.00,256.55 L444.25,256.38 L444.50,256.31 L444.75,256.32 L445.00,256.41 L445.25,256.59 L445.50,256.85 L445.75,257.19 L446.00,257.62 L446.25,258.12 L446.50,258.69 L446.75,259.33 L447.00,260.04 L447.25,260.81 L447.50,261.63 L447.75,262.50 L448.00,263.42 L448.25,264.38 L448.50,265.37 L448.75,266.39 L449.00,267.43 L449.25,268.49 L449.50,269.57 L449.75,270.64 L450.00,271.72 L450.25,272.80 L450.50,273.86 L450.75,274.91 L451.00,275.95 L451.25,276.97 L451.50,277.96 L451.75,278.92 L452.00,279.86 L452.25,280.76 L452.50,281.63 L452.75,283.55 L453.00,285.27 L453.25,286.81 L453.50,288.17 L453.75,289.37 L454.00,290.41 L454.25,291.32 L454.50,292.09 L454.75,292.75 L455.00,293.30 L455.25,293.30 L455.50,293.30 L455.50,293.30 Z" fill="#69b23c"/>
<path d="M451.00,293.30 L451.00,293.30 L451.25,293.30 L451.50,293.30 L451.75,292.16 L452.00,290.83 L452.25,289.31 L452.50,287.58 L452.75,285.63 L453.00,283.45 L453.25,281.02 L453.50,278.35 L453.75,275.42 L454.00,272.23 L454.25,271.00 L454.50,269.75 L454.75,268.48 L455.00,267.21 L455.25,265.93 L455.50,264.66 L455.75,263.38 L456.00,262.13 L456.25,260.89 L456.50,259.68 L456.75,258.50 L457.00,257.36 L457.25,256.26 L457.50,255.22 L457.75,254.23 L458.00,253.31 L458.25,252.45 L458.50,251.67 L458.75,250.97 L459.00,250.35 L459.25,249.83 L459.50,249.39 L459.75,249.05 L460.00,248.80 L460.25,248.65 L460.50,248.60 L460.75,248.65 L461.00,248.80 L461.25,249.05 L461.50,249.39 L461.75,249.83 L462.00,250.35 L462.25,250.97 L462.50,251.67 L462.75,252.45 L463.00,253.31 L463.25,254.23 L463.50,255.22 L463.75,256.26 L464.00,257.36 L464.25,258.50 L464.50,259.68 L464.75,260.89 L465.00,262.13 L465.25,263.38 L465.50,264.66 L465.75,265.93 L466.00,267.21 L466.25,268.48 L466.50,269.75 L466.75,271.00 L467.00,272.23 L467.25,273.43 L467.50,274.61 L467.75,275.76 L468.00,276.88 L468.25,277.95 L468.50,278.99 L468.75,279.99 L469.00,280.95 L469.25,281.86 L469.50,282.73 L469.75,284.53 L470.00,286.13 L470.25,287.54 L470.50,288.78 L470.75,289.86 L471.00,290.79 L471.25,291.59 L471.50,292.26 L471.75,292.83 L472.00,293.30 L472.25,293.30 L472.50,293.30 L472.50,293.30 Z" fill="#eb961f"/>
<path d="M467.50,293.30 L467.50,293.30 L467.75,293.30 L468.00,293.30 L468.25,291.95 L468.50,290.32 L468.75,288.39 L469.00,286.14 L469.25,283.53 L469.50,280.54 L469.75,277.14 L470.00,273.30 L470.25,269.01 L470.50,264.23 L470.75,262.08 L471.00,259.86 L471.25,257.59 L471.50,255.26 L471.75,252.88 L472.00,250.48 L472.25,248.06 L472.50,245.62 L472.75,243.20 L473.00,240.79 L473.25,238.42 L473.50,236.09 L473.75,233.83 L474.00,231.64 L474.25,229.55 L474.50,227.57 L474.75,225.70 L475.00,223.98 L475.25,222.40 L475.50,220.98 L475.75,219.73 L476.00,218.67 L476.25,217.79 L476.50,217.11 L476.75,216.64 L477.00,216.37 L477.25,216.30 L477.50,216.45 L477.75,216.80 L478.00,217.36 L478.25,218.12 L478.50,219.07 L478.75,220.21 L479.00,221.53 L479.25,223.01 L479.50,224.65 L479.75,226.43 L480.00,228.35 L480.25,230.38 L480.50,232.51 L480.75,234.72 L481.00,237.01 L481.25,239.36 L481.50,241.75 L481.75,244.17 L482.00,246.60 L482.25,249.03 L482.50,251.44 L482.75,253.84 L483.00,256.19 L483.25,258.50 L483.50,260.76 L483.75,262.95 L484.00,265.07 L484.25,267.11 L484.50,269.08 L484.75,270.95 L485.00,272.74 L485.25,274.43 L485.50,276.03 L485.75,277.54 L486.00,278.96 L486.25,280.28 L486.50,281.51 L486.75,282.66 L487.00,283.72 L487.25,284.70 L487.50,285.60 L487.75,287.11 L488.00,288.40 L488.25,289.49 L488.50,290.41 L488.75,291.17 L489.00,291.80 L489.25,292.31 L489.50,292.72 L489.75,293.05 L490.00,293.30 L490.25,293.30 L490.50,293.30 L490.50,293.30 Z" fill="#2d4a8a"/>
<polyline points="429.00,278.75 429.25,278.82 429.50,278.92 429.75,279.06 430.00,279.24 430.25,279.46 430.50,279.73 430.75,280.05 431.00,280.42 431.25,280.83 431.50,281.28 431.75,281.78 432.00,282.31 432.25,282.87 432.50,283.46 432.75,284.07 433.00,284.71 433.20,285.02 433.40,285.30 433.60,285.54 433.80,285.74 434.00,285.91 434.20,286.03 434.40,286.13 434.60,286.18 434.80,286.20 435.00,286.16 435.20,286.06 435.40,285.88 435.60,285.62 435.80,285.30 436.00,284.90 436.20,284.44 436.40,283.90 436.60,283.28 436.80,282.60 436.80,282.25 437.05,280.40 437.30,279.49 437.55,278.54 437.80,277.56 438.05,276.56 438.30,275.54 438.55,274.50 438.80,273.44 439.05,272.37 439.30,271.29 439.55,270.21 439.80,269.14 440.05,268.07 440.30,267.01 440.55,265.98" fill="none" stroke="#2a1838" stroke-width="1.1" stroke-linejoin="round"/>
<polyline points="448.10,263.80 448.35,264.77 448.60,265.78 448.85,266.81 449.10,267.86 449.35,268.92 449.60,270.00 449.85,271.07 450.10,272.15 450.35,273.22 450.60,274.28 450.85,275.33 451.10,276.36 451.35,277.37 451.60,278.35 451.85,279.30 452.10,280.26 452.30,280.36 452.50,280.40 452.70,280.36 452.90,280.26 453.10,280.08 453.30,279.82 453.40,279.45 453.65,276.62 453.90,273.54 454.15,271.49 454.40,270.25 454.65,268.99 454.90,267.72 455.15,266.44 455.40,265.17 455.65,263.89 455.90,262.63 456.15,261.38 456.40,260.16 456.65,258.97 456.90,257.81 457.15,256.69" fill="none" stroke="#2a1838" stroke-width="1.1" stroke-linejoin="round"/>
<polyline points="463.30,254.42 463.55,255.42 463.80,256.48 464.05,257.58 464.30,258.73 464.55,259.92 464.80,261.14 465.05,262.38 465.30,263.64 465.55,264.91 465.80,266.19 466.05,267.47 466.30,268.74 466.55,270.00 466.80,271.25 467.05,272.47 467.30,273.90 467.50,274.30 467.70,274.62 467.90,274.88 468.10,275.06 468.30,275.16 468.50,275.20 468.70,275.16 468.90,275.06 469.10,274.88 469.30,274.62 469.50,274.30 469.70,273.90 469.90,273.44 470.10,272.90 470.10,271.64 470.35,267.16 470.60,263.38 470.85,261.20 471.10,258.96 471.35,256.66 471.60,254.31 471.85,251.93 472.10,249.51 472.35,247.08 472.60,244.65 472.85,242.23 473.10,239.84 473.35,237.48 473.60,235.18 473.85,232.94" fill="none" stroke="#2a1838" stroke-width="1.1" stroke-linejoin="round"/>
<line x1="372.75" y1="175.80" x2="372.75" y2="297.80" stroke="#000" stroke-width="1.7"/>
<line x1="367.95" y1="293.30" x2="506.00" y2="293.30" stroke="#000" stroke-width="1.7"/>
<line x1="367.95" y1="293.30" x2="372.75" y2="293.30" stroke="#000" stroke-width="1.5"/>
<line x1="370.35" y1="288.60" x2="372.75" y2="288.60" stroke="#000" stroke-width="1.2"/>
<line x1="370.35" y1="283.90" x2="372.75" y2="283.90" stroke="#000" stroke-width="1.2"/>
<line x1="370.35" y1="279.20" x2="372.75" y2="279.20" stroke="#000" stroke-width="1.2"/>
<line x1="370.35" y1="274.50" x2="372.75" y2="274.50" stroke="#000" stroke-width="1.2"/>
<line x1="367.95" y1="269.80" x2="372.75" y2="269.80" stroke="#000" stroke-width="1.5"/>
<line x1="370.35" y1="265.10" x2="372.75" y2="265.10" stroke="#000" stroke-width="1.2"/>
<line x1="370.35" y1="260.40" x2="372.75" y2="260.40" stroke="#000" stroke-width="1.2"/>
<line x1="370.35" y1="255.70" x2="372.75" y2="255.70" stroke="#000" stroke-width="1.2"/>
<line x1="370.35" y1="251.00" x2="372.75" y2="251.00" stroke="#000" stroke-width="1.2"/>
<line x1="367.95" y1="246.30" x2="372.75" y2="246.30" stroke="#000" stroke-width="1.5"/>
<line x1="370.35" y1="241.60" x2="372.75" y2="241.60" stroke="#000" stroke-width="1.2"/>
<line x1="370.35" y1="236.90" x2="372.75" y2="236.90" stroke="#000" stroke-width="1.2"/>
<line x1="370.35" y1="232.20" x2="372.75" y2="232.20" stroke="#000" stroke-width="1.2"/>
<line x1="370.35" y1="227.50" x2="372.75" y2="227.50" stroke="#000" stroke-width="1.2"/>
<line x1="367.95" y1="222.80" x2="372.75" y2="222.80" stroke="#000" stroke-width="1.5"/>
<line x1="370.35" y1="218.10" x2="372.75" y2="218.10" stroke="#000" stroke-width="1.2"/>
<line x1="370.35" y1="213.40" x2="372.75" y2="213.40" stroke="#000" stroke-width="1.2"/>
<line x1="370.35" y1="208.70" x2="372.75" y2="208.70" stroke="#000" stroke-width="1.2"/>
<line x1="370.35" y1="204.00" x2="372.75" y2="204.00" stroke="#000" stroke-width="1.2"/>
<line x1="367.95" y1="199.30" x2="372.75" y2="199.30" stroke="#000" stroke-width="1.5"/>
<line x1="370.35" y1="194.60" x2="372.75" y2="194.60" stroke="#000" stroke-width="1.2"/>
<line x1="370.35" y1="189.90" x2="372.75" y2="189.90" stroke="#000" stroke-width="1.2"/>
<line x1="370.35" y1="185.20" x2="372.75" y2="185.20" stroke="#000" stroke-width="1.2"/>
<line x1="370.35" y1="180.50" x2="372.75" y2="180.50" stroke="#000" stroke-width="1.2"/>
<text x="357.84" y="296.55" font-size="9.72" textLength="5.84" lengthAdjust="spacingAndGlyphs" fill="#231f20">0</text>
<text x="352.02" y="273.05" font-size="9.72" textLength="11.67" lengthAdjust="spacingAndGlyphs" fill="#231f20">50</text>
<text x="346.19" y="249.55" font-size="9.72" textLength="17.51" lengthAdjust="spacingAndGlyphs" fill="#231f20">100</text>
<text x="346.19" y="226.05" font-size="9.72" textLength="17.51" lengthAdjust="spacingAndGlyphs" fill="#231f20">150</text>
<text x="346.19" y="202.55" font-size="9.72" textLength="17.51" lengthAdjust="spacingAndGlyphs" fill="#231f20">200</text>
<line x1="372.75" y1="293.30" x2="372.75" y2="297.80" stroke="#000" stroke-width="1.5"/>
<line x1="377.97" y1="293.30" x2="377.97" y2="295.90" stroke="#000" stroke-width="1.2"/>
<line x1="383.19" y1="293.30" x2="383.19" y2="295.90" stroke="#000" stroke-width="1.2"/>
<line x1="388.41" y1="293.30" x2="388.41" y2="295.90" stroke="#000" stroke-width="1.2"/>
<line x1="393.63" y1="293.30" x2="393.63" y2="295.90" stroke="#000" stroke-width="1.2"/>
<line x1="398.85" y1="293.30" x2="398.85" y2="297.80" stroke="#000" stroke-width="1.5"/>
<line x1="404.07" y1="293.30" x2="404.07" y2="295.90" stroke="#000" stroke-width="1.2"/>
<line x1="409.29" y1="293.30" x2="409.29" y2="295.90" stroke="#000" stroke-width="1.2"/>
<line x1="414.51" y1="293.30" x2="414.51" y2="295.90" stroke="#000" stroke-width="1.2"/>
<line x1="419.73" y1="293.30" x2="419.73" y2="295.90" stroke="#000" stroke-width="1.2"/>
<line x1="424.95" y1="293.30" x2="424.95" y2="297.80" stroke="#000" stroke-width="1.5"/>
<line x1="430.17" y1="293.30" x2="430.17" y2="295.90" stroke="#000" stroke-width="1.2"/>
<line x1="435.39" y1="293.30" x2="435.39" y2="295.90" stroke="#000" stroke-width="1.2"/>
<line x1="440.61" y1="293.30" x2="440.61" y2="295.90" stroke="#000" stroke-width="1.2"/>
<line x1="445.83" y1="293.30" x2="445.83" y2="295.90" stroke="#000" stroke-width="1.2"/>
<line x1="451.05" y1="293.30" x2="451.05" y2="297.80" stroke="#000" stroke-width="1.5"/>
<line x1="456.27" y1="293.30" x2="456.27" y2="295.90" stroke="#000" stroke-width="1.2"/>
<line x1="461.49" y1="293.30" x2="461.49" y2="295.90" stroke="#000" stroke-width="1.2"/>
<line x1="466.71" y1="293.30" x2="466.71" y2="295.90" stroke="#000" stroke-width="1.2"/>
<line x1="471.93" y1="293.30" x2="471.93" y2="295.90" stroke="#000" stroke-width="1.2"/>
<line x1="477.15" y1="293.30" x2="477.15" y2="297.80" stroke="#000" stroke-width="1.5"/>
<line x1="482.37" y1="293.30" x2="482.37" y2="295.90" stroke="#000" stroke-width="1.2"/>
<line x1="487.59" y1="293.30" x2="487.59" y2="295.90" stroke="#000" stroke-width="1.2"/>
<line x1="492.81" y1="293.30" x2="492.81" y2="295.90" stroke="#000" stroke-width="1.2"/>
<line x1="498.03" y1="293.30" x2="498.03" y2="295.90" stroke="#000" stroke-width="1.2"/>
<line x1="503.25" y1="293.30" x2="503.25" y2="297.80" stroke="#000" stroke-width="1.5"/>
<text x="369.81" y="310.60" font-size="9.72" textLength="5.84" lengthAdjust="spacingAndGlyphs" fill="#231f20">0</text>
<text x="393.00" y="310.60" font-size="9.72" textLength="11.67" lengthAdjust="spacingAndGlyphs" fill="#231f20">30</text>
<text x="419.05" y="310.60" font-size="9.72" textLength="11.67" lengthAdjust="spacingAndGlyphs" fill="#231f20">60</text>
<text x="445.17" y="310.60" font-size="9.72" textLength="11.67" lengthAdjust="spacingAndGlyphs" fill="#231f20">90</text>
<text x="468.20" y="310.60" font-size="9.72" textLength="17.51" lengthAdjust="spacingAndGlyphs" fill="#231f20">120</text>
<text x="494.30" y="310.60" font-size="9.72" textLength="17.51" lengthAdjust="spacingAndGlyphs" fill="#231f20">150</text>
<text x="406.62" y="220.31" font-size="9.30" textLength="30.00" lengthAdjust="spacingAndGlyphs" fill="#231f20">CD154</text>
<text x="408.11" y="252.75" font-size="9.50" textLength="19.35" lengthAdjust="spacingAndGlyphs" fill="#231f20">42%</text>
<polyline points="395.00,435.30 400.00,433.00 405.00,427.50 409.00,424.00 412.50,420.00 415.00,416.00 417.50,411.00 419.60,402.20 422.00,395.00 423.75,385.00 425.50,379.00 428.00,375.00 429.50,378.00 430.70,374.00 432.50,370.00 434.70,363.00 436.00,370.00 437.20,383.00 438.50,368.00 440.50,363.00 442.50,364.00 445.00,361.25 447.00,365.00 448.75,363.75 450.00,362.00 451.25,360.00 452.50,364.00 453.75,370.00 455.00,368.00 456.25,375.00 458.00,372.00 460.00,369.00 462.00,374.00 463.75,382.50 465.00,388.00 466.25,392.50 468.00,389.00 470.00,385.00 472.00,382.00 473.75,377.50 475.00,372.00 476.70,367.00 478.80,367.50 479.30,350.00 479.80,340.00 481.25,345.00 482.50,338.00 483.40,333.40 484.50,345.00 485.50,351.00 485.80,380.00 486.00,435.30" fill="none" stroke="#92113a" stroke-width="1.5" stroke-linejoin="round"/>
<path d="M399.50,435.30 L399.50,435.30 L399.75,435.30 L400.00,435.30 L400.25,435.17 L400.50,435.02 L400.75,434.84 L401.00,434.64 L401.25,434.39 L401.50,434.12 L401.75,433.80 L402.00,433.44 L402.25,433.03 L402.50,432.56 L402.75,432.34 L403.00,432.10 L403.25,431.85 L403.50,431.59 L403.75,431.31 L404.00,431.01 L404.25,430.70 L404.50,430.38 L404.75,430.04 L405.00,429.68 L405.25,429.31 L405.50,428.93 L405.75,428.53 L406.00,428.13 L406.25,427.70 L406.50,427.27 L406.75,426.83 L407.00,426.38 L407.25,425.93 L407.50,425.47 L407.75,425.01 L408.00,424.54 L408.25,424.08 L408.50,423.63 L408.75,423.18 L409.00,422.75 L409.25,422.33 L409.50,421.94 L409.75,421.56 L410.00,421.22 L410.25,420.92 L410.50,420.66 L410.75,420.45 L411.00,420.32 L411.25,420.34 L411.50,420.49 L411.75,420.70 L412.00,420.97 L412.25,421.29 L412.50,421.64 L412.75,422.01 L413.00,422.41 L413.25,422.84 L413.50,423.27 L413.75,423.72 L414.00,424.18 L414.25,424.64 L414.50,425.10 L414.75,425.56 L415.00,426.02 L415.25,426.47 L415.50,426.92 L415.75,427.36 L416.00,427.79 L416.25,428.21 L416.50,428.61 L416.75,429.01 L417.00,429.39 L417.25,429.75 L417.50,430.11 L417.75,430.44 L418.00,430.77 L418.25,431.50 L418.50,432.15 L418.75,432.74 L419.00,433.26 L419.25,433.73 L419.50,434.13 L419.75,434.49 L420.00,434.80 L420.25,435.07 L420.50,435.30 L420.75,435.30 L421.00,435.30 L421.00,435.30 Z" fill="#6f9fd8"/>
<path d="M417.00,435.30 L417.00,435.30 L417.25,435.30 L417.50,435.30 L417.75,433.88 L418.00,432.27 L418.25,430.45 L418.50,428.40 L418.75,426.11 L419.00,423.57 L419.25,420.78 L419.50,417.71 L419.75,414.36 L420.00,410.73 L420.25,409.39 L420.50,408.02 L420.75,406.62 L421.00,405.20 L421.25,403.76 L421.50,402.31 L421.75,400.85 L422.00,399.38 L422.25,397.90 L422.50,396.43 L422.75,394.97 L423.00,393.53 L423.25,392.10 L423.50,390.69 L423.75,389.31 L424.00,387.97 L424.25,386.67 L424.50,385.41 L424.75,384.20 L425.00,383.05 L425.25,381.96 L425.50,380.94 L425.75,379.98 L426.00,379.10 L426.25,378.30 L426.50,377.58 L426.75,376.95 L427.00,376.41 L427.25,375.96 L427.50,375.60 L427.75,375.34 L428.00,375.17 L428.25,375.10 L428.50,375.13 L428.75,375.26 L429.00,375.48 L429.25,375.80 L429.50,376.22 L429.75,376.72 L430.00,377.32 L430.25,378.01 L430.50,378.77 L430.75,379.62 L431.00,380.55 L431.25,381.54 L431.50,382.61 L431.75,383.73 L432.00,384.92 L432.25,386.16 L432.50,387.44 L432.75,388.77 L433.00,390.13 L433.25,391.53 L433.50,392.95 L433.75,394.39 L434.00,395.85 L434.25,397.32 L434.50,398.79 L434.75,400.26 L435.00,401.73 L435.25,403.18 L435.50,404.63 L435.75,406.05 L436.00,407.46 L436.25,408.84 L436.50,410.20 L436.75,411.52 L437.00,412.81 L437.25,414.06 L437.50,415.28 L437.75,416.46 L438.00,419.01 L438.25,421.68 L438.50,424.10 L438.75,426.28 L439.00,428.24 L439.25,429.98 L439.50,431.53 L439.75,432.89 L440.00,434.08 L440.25,435.11 L440.50,435.30 L440.75,435.30 L440.75,435.30 Z" fill="#d4117f"/>
<path d="M434.30,435.30 L434.30,435.30 L434.55,435.30 L434.80,435.30 L435.05,432.69 L435.30,429.73 L435.55,426.40 L435.80,422.70 L436.05,418.59 L436.30,414.07 L436.55,409.13 L436.80,403.74 L437.05,397.90 L437.30,391.61 L437.55,389.44 L437.80,387.25 L438.05,385.04 L438.30,382.81 L438.55,380.59 L438.80,378.37 L439.05,376.17 L439.30,373.98 L439.55,371.83 L439.80,369.71 L440.05,367.64 L440.30,365.62 L440.55,363.67 L440.80,361.80 L441.05,360.00 L441.30,358.30 L441.55,356.69 L441.80,355.19 L442.05,353.80 L442.30,352.53 L442.55,351.39 L442.80,350.37 L443.05,349.50 L443.30,348.77 L443.55,348.18 L443.80,347.74 L444.05,347.45 L444.30,347.31 L444.55,347.33 L444.80,347.50 L445.05,347.81 L445.30,348.28 L445.55,348.90 L445.80,349.66 L446.05,350.57 L446.30,351.60 L446.55,352.77 L446.80,354.07 L447.05,355.48 L447.30,357.00 L447.55,358.63 L447.80,360.35 L448.05,362.17 L448.30,364.06 L448.55,366.02 L448.80,368.05 L449.05,370.13 L449.30,372.25 L449.55,374.42 L449.80,376.61 L450.05,378.82 L450.30,381.04 L450.55,383.26 L450.80,385.48 L451.05,387.69 L451.30,389.87 L451.55,392.04 L451.80,394.17 L452.05,396.26 L452.30,398.31 L452.55,401.02 L452.80,406.24 L453.05,411.02 L453.30,415.38 L453.55,419.34 L453.80,422.92 L454.05,426.13 L454.30,428.98 L454.55,431.51 L454.80,433.73 L455.05,435.30 L455.30,435.30 L455.30,435.30 Z" fill="#69b23c"/>
<path d="M451.00,435.30 L451.00,435.30 L451.25,435.30 L451.50,435.30 L451.75,433.51 L452.00,431.45 L452.25,429.10 L452.50,426.46 L452.75,423.49 L453.00,420.19 L453.25,416.55 L453.50,412.55 L453.75,408.17 L454.00,403.42 L454.25,401.65 L454.50,399.86 L454.75,398.04 L455.00,396.21 L455.25,394.36 L455.50,392.52 L455.75,390.68 L456.00,388.86 L456.25,387.06 L456.50,385.29 L456.75,383.55 L457.00,381.86 L457.25,380.23 L457.50,378.66 L457.75,377.16 L458.00,375.75 L458.25,374.41 L458.50,373.18 L458.75,372.04 L459.00,371.01 L459.25,370.09 L459.50,369.30 L459.75,368.62 L460.00,368.07 L460.25,367.66 L460.50,367.37 L460.75,367.22 L461.00,367.21 L461.25,367.33 L461.50,367.59 L461.75,367.98 L462.00,368.50 L462.25,369.15 L462.50,369.92 L462.75,370.82 L463.00,371.82 L463.25,372.94 L463.50,374.16 L463.75,375.47 L464.00,376.87 L464.25,378.36 L464.50,379.91 L464.75,381.53 L465.00,383.21 L465.25,384.94 L465.50,386.70 L465.75,388.50 L466.00,390.32 L466.25,392.15 L466.50,394.00 L466.75,395.84 L467.00,397.67 L467.25,399.50 L467.50,401.30 L467.75,403.07 L468.00,404.81 L468.25,406.52 L468.50,408.19 L468.75,409.81 L469.00,411.38 L469.25,412.89 L469.50,414.36 L469.75,417.72 L470.00,420.75 L470.25,423.47 L470.50,425.90 L470.75,428.05 L471.00,429.94 L471.25,431.60 L471.50,433.03 L471.75,434.26 L472.00,435.30 L472.25,435.30 L472.50,435.30 L472.50,435.30 Z" fill="#eb961f"/>
<path d="M467.30,435.30 L467.30,435.30 L467.55,435.30 L467.80,435.30 L468.05,433.78 L468.30,432.00 L468.55,429.93 L468.80,427.55 L469.05,424.84 L469.30,421.78 L469.55,418.35 L469.80,414.54 L470.05,410.32 L470.30,405.69 L470.55,403.79 L470.80,401.85 L471.05,399.87 L471.30,397.87 L471.55,395.85 L471.80,393.81 L472.05,391.78 L472.30,389.76 L472.55,387.76 L472.80,385.79 L473.05,383.86 L473.30,381.98 L473.55,380.17 L473.80,378.44 L474.05,376.79 L474.30,375.24 L474.55,373.79 L474.80,372.46 L475.05,371.26 L475.30,370.18 L475.55,369.25 L475.80,368.47 L476.05,367.84 L476.30,367.37 L476.55,367.06 L476.80,366.91 L477.05,366.93 L477.30,367.11 L477.55,367.45 L477.80,367.96 L478.05,368.62 L478.30,369.43 L478.55,370.39 L478.80,371.49 L479.05,372.72 L479.30,374.07 L479.55,375.54 L479.80,377.11 L480.05,378.78 L480.30,380.53 L480.55,382.35 L480.80,384.24 L481.05,386.18 L481.30,388.16 L481.55,390.16 L481.80,392.19 L482.05,394.22 L482.30,396.25 L482.55,398.27 L482.80,400.27 L483.05,402.24 L483.30,404.18 L483.55,406.07 L483.80,407.91 L484.05,409.70 L484.30,411.43 L484.55,413.09 L484.80,414.69 L485.05,416.22 L485.30,417.68 L485.55,419.07 L485.80,420.38 L486.05,421.62 L486.30,422.79 L486.55,423.88 L486.80,424.91 L487.05,425.86 L487.30,426.75 L487.55,427.73 L487.80,429.17 L488.05,430.41 L488.30,431.48 L488.55,432.38 L488.80,433.14 L489.05,433.78 L489.30,434.30 L489.55,434.73 L489.80,435.08 L490.05,435.30 L490.30,435.30 L490.30,435.30 Z" fill="#2d4a8a"/>
<polyline points="410.50,420.66 410.75,420.45 411.00,420.32 411.25,420.34 411.50,420.49 411.75,420.70 412.00,420.97 412.25,421.29 412.50,421.64 412.75,422.01 413.00,422.41 413.25,422.84 413.50,423.35 413.70,423.53 413.90,423.70 414.10,423.86 414.30,424.00 414.50,424.13 414.70,424.25 414.90,424.36 415.10,424.46 415.30,424.54 415.50,424.62 415.70,424.68 415.90,424.73 416.10,424.76 416.30,424.79 416.50,424.80 416.70,424.79 416.90,424.72 417.10,424.58 417.30,424.36 417.50,424.07 417.70,423.71 417.90,423.28 418.10,422.78 418.30,422.20 418.50,421.55 418.70,420.83 418.90,420.04 419.10,419.18 419.30,418.24 419.50,417.23 419.60,416.41 419.85,412.95 420.10,410.20 420.35,408.84 420.60,407.46 420.85,406.05 421.10,404.63 421.35,403.18 421.60,401.73 421.85,400.26 422.10,398.79 422.35,397.32" fill="none" stroke="#2a1838" stroke-width="1.1" stroke-linejoin="round"/>
<polyline points="431.60,383.05 431.85,384.20 432.10,385.41 432.35,386.67 432.60,387.97 432.85,389.31 433.10,390.69 433.35,392.10 433.60,393.53 433.85,394.97 434.10,396.43 434.35,397.90 434.60,399.38 434.85,400.85 435.10,402.31 435.35,403.76 435.60,405.69 435.80,405.69 436.00,405.62 436.20,405.48 436.40,405.26 436.60,404.97 436.80,404.61 436.80,403.74 437.05,397.90 437.30,391.61 437.55,389.44 437.80,387.25 438.05,385.04 438.30,382.81 438.55,380.59 438.80,378.37 439.05,376.17 439.30,373.98 439.55,371.83 439.80,369.71 440.05,367.64 440.30,365.62 440.55,363.67" fill="none" stroke="#2a1838" stroke-width="1.1" stroke-linejoin="round"/>
<polyline points="448.60,366.42 448.85,368.46 449.10,370.55 449.35,372.68 449.60,374.85 449.85,377.05 450.10,379.26 450.35,381.48 450.60,383.70 450.85,385.92 451.10,388.12 451.35,390.31 451.60,392.47 451.85,394.59 452.10,396.68 452.35,398.72 452.60,403.68 452.80,403.86 453.00,403.96 453.20,404.00 453.40,403.96 453.60,403.86 453.80,403.68 454.00,403.42 454.00,403.42 454.25,401.65 454.50,399.86 454.75,398.04 455.00,396.21 455.25,394.36 455.50,392.52 455.75,390.68 456.00,388.86 456.25,387.06 456.50,385.29 456.75,383.55 457.00,381.86 457.25,380.23 457.50,378.66 457.75,377.16" fill="none" stroke="#2a1838" stroke-width="1.1" stroke-linejoin="round"/>
<polyline points="464.30,378.66 464.55,380.23 464.80,381.86 465.05,383.55 465.30,385.29 465.55,387.06 465.80,388.86 466.05,390.68 466.30,392.52 466.55,394.36 466.80,396.21 467.05,398.04 467.30,399.86 467.55,401.65 467.80,403.42 468.05,405.16 468.30,406.96 468.50,407.00 468.70,406.96 468.90,406.86 469.10,406.68 469.30,406.42 469.50,406.10 469.70,405.70 469.90,405.24 470.10,404.70 470.30,404.08 470.50,403.40 470.70,402.64 470.70,402.63 470.95,400.67 471.20,398.67 471.45,396.66 471.70,394.63 471.95,392.59 472.20,390.57 472.45,388.56 472.70,386.57 472.95,384.62 473.20,382.73 473.45,380.89 473.70,379.12 473.95,377.44 474.20,375.84 474.45,374.35" fill="none" stroke="#2a1838" stroke-width="1.1" stroke-linejoin="round"/>
<line x1="372.75" y1="317.80" x2="372.75" y2="439.80" stroke="#000" stroke-width="1.7"/>
<line x1="367.95" y1="435.30" x2="506.00" y2="435.30" stroke="#000" stroke-width="1.7"/>
<line x1="367.95" y1="435.30" x2="372.75" y2="435.30" stroke="#000" stroke-width="1.5"/>
<line x1="370.35" y1="429.92" x2="372.75" y2="429.92" stroke="#000" stroke-width="1.2"/>
<line x1="370.35" y1="424.53" x2="372.75" y2="424.53" stroke="#000" stroke-width="1.2"/>
<line x1="370.35" y1="419.14" x2="372.75" y2="419.14" stroke="#000" stroke-width="1.2"/>
<line x1="370.35" y1="413.76" x2="372.75" y2="413.76" stroke="#000" stroke-width="1.2"/>
<line x1="367.95" y1="408.38" x2="372.75" y2="408.38" stroke="#000" stroke-width="1.5"/>
<line x1="370.35" y1="402.99" x2="372.75" y2="402.99" stroke="#000" stroke-width="1.2"/>
<line x1="370.35" y1="397.61" x2="372.75" y2="397.61" stroke="#000" stroke-width="1.2"/>
<line x1="370.35" y1="392.22" x2="372.75" y2="392.22" stroke="#000" stroke-width="1.2"/>
<line x1="370.35" y1="386.84" x2="372.75" y2="386.84" stroke="#000" stroke-width="1.2"/>
<line x1="367.95" y1="381.45" x2="372.75" y2="381.45" stroke="#000" stroke-width="1.5"/>
<line x1="370.35" y1="376.06" x2="372.75" y2="376.06" stroke="#000" stroke-width="1.2"/>
<line x1="370.35" y1="370.68" x2="372.75" y2="370.68" stroke="#000" stroke-width="1.2"/>
<line x1="370.35" y1="365.30" x2="372.75" y2="365.30" stroke="#000" stroke-width="1.2"/>
<line x1="370.35" y1="359.91" x2="372.75" y2="359.91" stroke="#000" stroke-width="1.2"/>
<line x1="367.95" y1="354.53" x2="372.75" y2="354.53" stroke="#000" stroke-width="1.5"/>
<line x1="370.35" y1="349.14" x2="372.75" y2="349.14" stroke="#000" stroke-width="1.2"/>
<line x1="370.35" y1="343.75" x2="372.75" y2="343.75" stroke="#000" stroke-width="1.2"/>
<line x1="370.35" y1="338.37" x2="372.75" y2="338.37" stroke="#000" stroke-width="1.2"/>
<line x1="370.35" y1="332.99" x2="372.75" y2="332.99" stroke="#000" stroke-width="1.2"/>
<line x1="367.95" y1="327.60" x2="372.75" y2="327.60" stroke="#000" stroke-width="1.5"/>
<line x1="370.35" y1="322.22" x2="372.75" y2="322.22" stroke="#000" stroke-width="1.2"/>
<text x="357.84" y="438.55" font-size="9.72" textLength="5.84" lengthAdjust="spacingAndGlyphs" fill="#231f20">0</text>
<text x="352.02" y="411.63" font-size="9.72" textLength="11.67" lengthAdjust="spacingAndGlyphs" fill="#231f20">50</text>
<text x="346.19" y="384.70" font-size="9.72" textLength="17.51" lengthAdjust="spacingAndGlyphs" fill="#231f20">100</text>
<text x="346.19" y="357.78" font-size="9.72" textLength="17.51" lengthAdjust="spacingAndGlyphs" fill="#231f20">150</text>
<text x="346.19" y="330.85" font-size="9.72" textLength="17.51" lengthAdjust="spacingAndGlyphs" fill="#231f20">200</text>
<line x1="372.75" y1="435.30" x2="372.75" y2="439.80" stroke="#000" stroke-width="1.5"/>
<line x1="377.97" y1="435.30" x2="377.97" y2="437.90" stroke="#000" stroke-width="1.2"/>
<line x1="383.19" y1="435.30" x2="383.19" y2="437.90" stroke="#000" stroke-width="1.2"/>
<line x1="388.41" y1="435.30" x2="388.41" y2="437.90" stroke="#000" stroke-width="1.2"/>
<line x1="393.63" y1="435.30" x2="393.63" y2="437.90" stroke="#000" stroke-width="1.2"/>
<line x1="398.85" y1="435.30" x2="398.85" y2="439.80" stroke="#000" stroke-width="1.5"/>
<line x1="404.07" y1="435.30" x2="404.07" y2="437.90" stroke="#000" stroke-width="1.2"/>
<line x1="409.29" y1="435.30" x2="409.29" y2="437.90" stroke="#000" stroke-width="1.2"/>
<line x1="414.51" y1="435.30" x2="414.51" y2="437.90" stroke="#000" stroke-width="1.2"/>
<line x1="419.73" y1="435.30" x2="419.73" y2="437.90" stroke="#000" stroke-width="1.2"/>
<line x1="424.95" y1="435.30" x2="424.95" y2="439.80" stroke="#000" stroke-width="1.5"/>
<line x1="430.17" y1="435.30" x2="430.17" y2="437.90" stroke="#000" stroke-width="1.2"/>
<line x1="435.39" y1="435.30" x2="435.39" y2="437.90" stroke="#000" stroke-width="1.2"/>
<line x1="440.61" y1="435.30" x2="440.61" y2="437.90" stroke="#000" stroke-width="1.2"/>
<line x1="445.83" y1="435.30" x2="445.83" y2="437.90" stroke="#000" stroke-width="1.2"/>
<line x1="451.05" y1="435.30" x2="451.05" y2="439.80" stroke="#000" stroke-width="1.5"/>
<line x1="456.27" y1="435.30" x2="456.27" y2="437.90" stroke="#000" stroke-width="1.2"/>
<line x1="461.49" y1="435.30" x2="461.49" y2="437.90" stroke="#000" stroke-width="1.2"/>
<line x1="466.71" y1="435.30" x2="466.71" y2="437.90" stroke="#000" stroke-width="1.2"/>
<line x1="471.93" y1="435.30" x2="471.93" y2="437.90" stroke="#000" stroke-width="1.2"/>
<line x1="477.15" y1="435.30" x2="477.15" y2="439.80" stroke="#000" stroke-width="1.5"/>
<line x1="482.37" y1="435.30" x2="482.37" y2="437.90" stroke="#000" stroke-width="1.2"/>
<line x1="487.59" y1="435.30" x2="487.59" y2="437.90" stroke="#000" stroke-width="1.2"/>
<line x1="492.81" y1="435.30" x2="492.81" y2="437.90" stroke="#000" stroke-width="1.2"/>
<line x1="498.03" y1="435.30" x2="498.03" y2="437.90" stroke="#000" stroke-width="1.2"/>
<line x1="503.25" y1="435.30" x2="503.25" y2="439.80" stroke="#000" stroke-width="1.5"/>
<text x="369.81" y="452.60" font-size="9.72" textLength="5.84" lengthAdjust="spacingAndGlyphs" fill="#231f20">0</text>
<text x="393.00" y="452.60" font-size="9.72" textLength="11.67" lengthAdjust="spacingAndGlyphs" fill="#231f20">30</text>
<text x="419.05" y="452.60" font-size="9.72" textLength="11.67" lengthAdjust="spacingAndGlyphs" fill="#231f20">60</text>
<text x="445.17" y="452.60" font-size="9.72" textLength="11.67" lengthAdjust="spacingAndGlyphs" fill="#231f20">90</text>
<text x="468.20" y="452.60" font-size="9.72" textLength="17.51" lengthAdjust="spacingAndGlyphs" fill="#231f20">120</text>
<text x="494.30" y="452.60" font-size="9.72" textLength="17.51" lengthAdjust="spacingAndGlyphs" fill="#231f20">150</text>
<text x="385.41" y="351.81" font-size="9.30" textLength="30.41" lengthAdjust="spacingAndGlyphs" fill="#231f20">CD154</text>
<text x="387.35" y="363.31" font-size="9.29" textLength="27.65" lengthAdjust="spacingAndGlyphs" fill="#231f20">Wnt5a</text>
<text x="382.03" y="392.71" font-size="9.44" textLength="18.92" lengthAdjust="spacingAndGlyphs" fill="#231f20">67%</text>
<polyline points="399.50,577.20 404.20,575.50 407.20,573.80 409.50,572.90 411.10,573.60 413.40,572.40 415.70,571.20 417.20,569.60 419.50,570.40 421.10,567.30 422.60,568.10 424.90,566.50 427.20,564.20 429.50,561.60 431.10,563.50 432.60,564.20 434.20,562.70 435.70,565.80 437.20,564.20 438.80,563.20 440.30,564.70 441.80,563.80 443.50,565.00 445.70,563.50 448.00,565.50 450.30,564.20 451.80,565.80 453.40,564.20 454.90,567.30 456.50,565.80 458.80,566.50 461.10,564.20 464.20,564.20 466.80,557.00 468.50,555.50 470.10,555.00 471.70,543.70 473.30,542.90 475.00,530.00 476.70,515.00 478.10,503.40 479.10,490.00 479.70,484.00 481.40,482.40 482.20,461.50 483.00,470.00 483.80,479.20 484.60,503.40 485.40,535.60 486.20,567.90 487.00,577.20" fill="none" stroke="#92113a" stroke-width="1.5" stroke-linejoin="round"/>
<path d="M403.50,577.20 L403.50,577.20 L403.75,577.20 L404.00,577.20 L404.25,577.19 L404.50,577.18 L404.75,577.16 L405.00,577.13 L405.25,577.09 L405.50,577.04 L405.75,576.97 L406.00,576.89 L406.25,576.78 L406.50,576.65 L406.75,576.55 L407.00,576.45 L407.25,576.33 L407.50,576.20 L407.75,576.06 L408.00,575.90 L408.25,575.74 L408.50,575.57 L408.75,575.39 L409.00,575.20 L409.25,575.01 L409.50,574.82 L409.75,574.63 L410.00,574.44 L410.25,574.26 L410.50,574.09 L410.75,573.93 L411.00,573.79 L411.25,573.67 L411.50,573.57 L411.75,573.49 L412.00,573.43 L412.25,573.40 L412.50,573.40 L412.75,573.43 L413.00,573.48 L413.25,573.55 L413.50,573.65 L413.75,573.77 L414.00,573.90 L414.25,574.06 L414.50,574.23 L414.75,574.40 L415.00,574.59 L415.25,574.78 L415.50,574.97 L415.75,575.16 L416.00,575.35 L416.25,575.53 L416.50,575.71 L416.75,575.87 L417.00,576.03 L417.25,576.17 L417.50,576.30 L417.75,576.43 L418.00,576.53 L418.25,576.69 L418.50,576.82 L418.75,576.92 L419.00,577.00 L419.25,577.06 L419.50,577.11 L419.75,577.14 L420.00,577.17 L420.25,577.19 L420.50,577.20 L420.75,577.20 L421.00,577.20 L421.00,577.20 Z" fill="#6f9fd8"/>
<path d="M419.50,577.20 L419.50,577.20 L419.75,577.20 L420.00,577.20 L420.25,577.07 L420.50,576.89 L420.75,576.68 L421.00,576.42 L421.25,576.10 L421.50,575.71 L421.75,575.26 L422.00,574.73 L422.25,574.12 L422.50,573.41 L422.75,573.02 L423.00,572.61 L423.25,572.18 L423.50,571.72 L423.75,571.25 L424.00,570.75 L424.25,570.24 L424.50,569.72 L424.75,569.18 L425.00,568.64 L425.25,568.09 L425.50,567.54 L425.75,567.00 L426.00,566.46 L426.25,565.93 L426.50,565.42 L426.75,564.93 L427.00,564.47 L427.25,564.03 L427.50,563.63 L427.75,563.26 L428.00,562.94 L428.25,562.66 L428.50,562.42 L428.75,562.24 L429.00,562.11 L429.25,562.03 L429.50,562.00 L429.75,562.03 L430.00,562.11 L430.25,562.24 L430.50,562.42 L430.75,562.66 L431.00,562.94 L431.25,563.26 L431.50,563.63 L431.75,564.03 L432.00,564.47 L432.25,564.93 L432.50,565.42 L432.75,565.93 L433.00,566.46 L433.25,567.00 L433.50,567.54 L433.75,568.09 L434.00,568.64 L434.25,569.18 L434.50,569.72 L434.75,570.24 L435.00,570.75 L435.25,571.25 L435.50,571.72 L435.75,572.18 L436.00,572.61 L436.25,573.02 L436.50,573.41 L436.75,573.77 L437.00,574.11 L437.25,574.71 L437.50,575.22 L437.75,575.65 L438.00,576.02 L438.25,576.33 L438.50,576.59 L438.75,576.80 L439.00,576.96 L439.25,577.10 L439.50,577.20 L439.75,577.20 L440.00,577.20 L440.00,577.20 Z" fill="#d4117f"/>
<path d="M435.30,577.20 L435.30,577.20 L435.55,577.20 L435.80,577.20 L436.05,577.10 L436.30,576.97 L436.55,576.81 L436.80,576.61 L437.05,576.36 L437.30,576.06 L437.55,575.71 L437.80,575.29 L438.05,574.80 L438.30,574.23 L438.55,573.91 L438.80,573.57 L439.05,573.20 L439.30,572.82 L439.55,572.41 L439.80,571.98 L440.05,571.54 L440.30,571.07 L440.55,570.60 L440.80,570.11 L441.05,569.61 L441.30,569.11 L441.55,568.61 L441.80,568.10 L442.05,567.60 L442.30,567.11 L442.55,566.63 L442.80,566.17 L443.05,565.73 L443.30,565.31 L443.55,564.92 L443.80,564.56 L444.05,564.24 L444.30,563.96 L444.55,563.72 L444.80,563.52 L445.05,563.37 L445.30,563.26 L445.55,563.21 L445.80,563.20 L446.05,563.25 L446.30,563.34 L446.55,563.48 L446.80,563.67 L447.05,563.90 L447.30,564.18 L447.55,564.49 L447.80,564.85 L448.05,565.23 L448.30,565.64 L448.55,566.08 L448.80,566.54 L449.05,567.01 L449.30,567.50 L449.55,568.00 L449.80,568.51 L450.05,569.01 L450.30,569.51 L450.55,570.01 L450.80,570.50 L451.05,570.98 L451.30,571.44 L451.55,571.89 L451.80,572.32 L452.05,572.74 L452.30,573.13 L452.55,573.50 L452.80,573.85 L453.05,574.23 L453.30,574.80 L453.55,575.30 L453.80,575.72 L454.05,576.07 L454.30,576.37 L454.55,576.62 L454.80,576.83 L455.05,576.99 L455.30,577.12 L455.55,577.20 L455.80,577.20 L455.80,577.20 Z" fill="#69b23c"/>
<path d="M451.20,577.20 L451.20,577.20 L451.45,577.20 L451.70,577.20 L451.95,577.09 L452.20,576.94 L452.45,576.76 L452.70,576.53 L452.95,576.26 L453.20,575.93 L453.45,575.54 L453.70,575.08 L453.95,574.55 L454.20,573.94 L454.45,573.60 L454.70,573.24 L454.95,572.86 L455.20,572.46 L455.45,572.04 L455.70,571.61 L455.95,571.16 L456.20,570.69 L456.45,570.22 L456.70,569.73 L456.95,569.25 L457.20,568.75 L457.45,568.27 L457.70,567.78 L457.95,567.31 L458.20,566.84 L458.45,566.40 L458.70,565.97 L458.95,565.57 L459.20,565.20 L459.45,564.86 L459.70,564.55 L459.95,564.28 L460.20,564.06 L460.45,563.88 L460.70,563.74 L460.95,563.65 L461.20,563.60 L461.45,563.61 L461.70,563.66 L461.95,563.76 L462.20,563.91 L462.45,564.10 L462.70,564.33 L462.95,564.61 L463.20,564.92 L463.45,565.27 L463.70,565.65 L463.95,566.05 L464.20,566.48 L464.45,566.93 L464.70,567.40 L464.95,567.88 L465.20,568.36 L465.45,568.85 L465.70,569.34 L465.95,569.83 L466.20,570.31 L466.45,570.79 L466.70,571.25 L466.95,571.70 L467.20,572.13 L467.45,572.54 L467.70,572.94 L467.95,573.32 L468.20,573.67 L468.45,574.01 L468.70,574.32 L468.95,574.87 L469.20,575.34 L469.45,575.75 L469.70,576.10 L469.95,576.38 L470.20,576.62 L470.45,576.82 L470.70,576.98 L470.95,577.10 L471.20,577.20 L471.45,577.20 L471.70,577.20 L471.70,577.20 Z" fill="#eb961f"/>
<path d="M467.50,577.20 L467.50,577.20 L467.75,577.20 L468.00,577.20 L468.25,576.86 L468.50,576.41 L468.75,575.83 L469.00,575.09 L469.25,574.16 L469.50,573.01 L469.75,571.61 L470.00,569.92 L470.25,567.91 L470.50,565.53 L470.75,564.07 L471.00,562.48 L471.25,560.76 L471.50,558.90 L471.75,556.93 L472.00,554.82 L472.25,552.59 L472.50,550.25 L472.75,547.79 L473.00,545.24 L473.25,542.60 L473.50,539.89 L473.75,537.13 L474.00,534.33 L474.25,531.51 L474.50,528.70 L474.75,525.91 L475.00,523.17 L475.25,520.52 L475.50,517.96 L475.75,515.53 L476.00,513.24 L476.25,511.14 L476.50,509.22 L476.75,507.53 L477.00,506.07 L477.25,504.87 L477.50,503.93 L477.75,503.27 L478.00,502.89 L478.25,502.81 L478.50,503.01 L478.75,503.50 L479.00,504.27 L479.25,505.32 L479.50,506.63 L479.75,508.18 L480.00,509.96 L480.25,511.96 L480.50,514.14 L480.75,516.48 L481.00,518.97 L481.25,521.57 L481.50,524.26 L481.75,527.02 L482.00,529.82 L482.25,532.64 L482.50,535.45 L482.75,538.24 L483.00,540.99 L483.25,543.67 L483.50,546.27 L483.75,548.79 L484.00,551.20 L484.25,553.50 L484.50,555.68 L484.75,557.73 L485.00,559.66 L485.25,561.46 L485.50,563.13 L485.75,564.67 L486.00,566.09 L486.25,567.38 L486.50,568.56 L486.75,569.62 L487.00,570.58 L487.25,571.45 L487.50,572.21 L487.75,573.33 L488.00,574.24 L488.25,574.98 L488.50,575.58 L488.75,576.05 L489.00,576.42 L489.25,576.71 L489.50,576.92 L489.75,577.08 L490.00,577.20 L490.25,577.20 L490.50,577.20 L490.50,577.20 Z" fill="#2d4a8a"/>
<line x1="372.75" y1="459.30" x2="372.75" y2="581.70" stroke="#000" stroke-width="1.7"/>
<line x1="367.95" y1="577.20" x2="506.00" y2="577.20" stroke="#000" stroke-width="1.7"/>
<line x1="367.95" y1="577.20" x2="372.75" y2="577.20" stroke="#000" stroke-width="1.5"/>
<line x1="370.35" y1="572.47" x2="372.75" y2="572.47" stroke="#000" stroke-width="1.2"/>
<line x1="370.35" y1="567.73" x2="372.75" y2="567.73" stroke="#000" stroke-width="1.2"/>
<line x1="370.35" y1="563.00" x2="372.75" y2="563.00" stroke="#000" stroke-width="1.2"/>
<line x1="370.35" y1="558.26" x2="372.75" y2="558.26" stroke="#000" stroke-width="1.2"/>
<line x1="367.95" y1="553.53" x2="372.75" y2="553.53" stroke="#000" stroke-width="1.5"/>
<line x1="370.35" y1="548.79" x2="372.75" y2="548.79" stroke="#000" stroke-width="1.2"/>
<line x1="370.35" y1="544.06" x2="372.75" y2="544.06" stroke="#000" stroke-width="1.2"/>
<line x1="370.35" y1="539.32" x2="372.75" y2="539.32" stroke="#000" stroke-width="1.2"/>
<line x1="370.35" y1="534.59" x2="372.75" y2="534.59" stroke="#000" stroke-width="1.2"/>
<line x1="367.95" y1="529.85" x2="372.75" y2="529.85" stroke="#000" stroke-width="1.5"/>
<line x1="370.35" y1="525.12" x2="372.75" y2="525.12" stroke="#000" stroke-width="1.2"/>
<line x1="370.35" y1="520.38" x2="372.75" y2="520.38" stroke="#000" stroke-width="1.2"/>
<line x1="370.35" y1="515.65" x2="372.75" y2="515.65" stroke="#000" stroke-width="1.2"/>
<line x1="370.35" y1="510.91" x2="372.75" y2="510.91" stroke="#000" stroke-width="1.2"/>
<line x1="367.95" y1="506.18" x2="372.75" y2="506.18" stroke="#000" stroke-width="1.5"/>
<line x1="370.35" y1="501.44" x2="372.75" y2="501.44" stroke="#000" stroke-width="1.2"/>
<line x1="370.35" y1="496.71" x2="372.75" y2="496.71" stroke="#000" stroke-width="1.2"/>
<line x1="370.35" y1="491.97" x2="372.75" y2="491.97" stroke="#000" stroke-width="1.2"/>
<line x1="370.35" y1="487.24" x2="372.75" y2="487.24" stroke="#000" stroke-width="1.2"/>
<line x1="367.95" y1="482.50" x2="372.75" y2="482.50" stroke="#000" stroke-width="1.5"/>
<line x1="370.35" y1="477.77" x2="372.75" y2="477.77" stroke="#000" stroke-width="1.2"/>
<line x1="370.35" y1="473.03" x2="372.75" y2="473.03" stroke="#000" stroke-width="1.2"/>
<line x1="370.35" y1="468.30" x2="372.75" y2="468.30" stroke="#000" stroke-width="1.2"/>
<line x1="370.35" y1="463.56" x2="372.75" y2="463.56" stroke="#000" stroke-width="1.2"/>
<text x="357.84" y="580.45" font-size="9.72" textLength="5.84" lengthAdjust="spacingAndGlyphs" fill="#231f20">0</text>
<text x="352.02" y="556.78" font-size="9.72" textLength="11.67" lengthAdjust="spacingAndGlyphs" fill="#231f20">50</text>
<text x="346.19" y="533.10" font-size="9.72" textLength="17.51" lengthAdjust="spacingAndGlyphs" fill="#231f20">100</text>
<text x="346.19" y="509.43" font-size="9.72" textLength="17.51" lengthAdjust="spacingAndGlyphs" fill="#231f20">150</text>
<text x="346.19" y="485.75" font-size="9.72" textLength="17.51" lengthAdjust="spacingAndGlyphs" fill="#231f20">200</text>
<line x1="372.75" y1="577.20" x2="372.75" y2="581.70" stroke="#000" stroke-width="1.5"/>
<line x1="377.97" y1="577.20" x2="377.97" y2="579.80" stroke="#000" stroke-width="1.2"/>
<line x1="383.19" y1="577.20" x2="383.19" y2="579.80" stroke="#000" stroke-width="1.2"/>
<line x1="388.41" y1="577.20" x2="388.41" y2="579.80" stroke="#000" stroke-width="1.2"/>
<line x1="393.63" y1="577.20" x2="393.63" y2="579.80" stroke="#000" stroke-width="1.2"/>
<line x1="398.85" y1="577.20" x2="398.85" y2="581.70" stroke="#000" stroke-width="1.5"/>
<line x1="404.07" y1="577.20" x2="404.07" y2="579.80" stroke="#000" stroke-width="1.2"/>
<line x1="409.29" y1="577.20" x2="409.29" y2="579.80" stroke="#000" stroke-width="1.2"/>
<line x1="414.51" y1="577.20" x2="414.51" y2="579.80" stroke="#000" stroke-width="1.2"/>
<line x1="419.73" y1="577.20" x2="419.73" y2="579.80" stroke="#000" stroke-width="1.2"/>
<line x1="424.95" y1="577.20" x2="424.95" y2="581.70" stroke="#000" stroke-width="1.5"/>
<line x1="430.17" y1="577.20" x2="430.17" y2="579.80" stroke="#000" stroke-width="1.2"/>
<line x1="435.39" y1="577.20" x2="435.39" y2="579.80" stroke="#000" stroke-width="1.2"/>
<line x1="440.61" y1="577.20" x2="440.61" y2="579.80" stroke="#000" stroke-width="1.2"/>
<line x1="445.83" y1="577.20" x2="445.83" y2="579.80" stroke="#000" stroke-width="1.2"/>
<line x1="451.05" y1="577.20" x2="451.05" y2="581.70" stroke="#000" stroke-width="1.5"/>
<line x1="456.27" y1="577.20" x2="456.27" y2="579.80" stroke="#000" stroke-width="1.2"/>
<line x1="461.49" y1="577.20" x2="461.49" y2="579.80" stroke="#000" stroke-width="1.2"/>
<line x1="466.71" y1="577.20" x2="466.71" y2="579.80" stroke="#000" stroke-width="1.2"/>
<line x1="471.93" y1="577.20" x2="471.93" y2="579.80" stroke="#000" stroke-width="1.2"/>
<line x1="477.15" y1="577.20" x2="477.15" y2="581.70" stroke="#000" stroke-width="1.5"/>
<line x1="482.37" y1="577.20" x2="482.37" y2="579.80" stroke="#000" stroke-width="1.2"/>
<line x1="487.59" y1="577.20" x2="487.59" y2="579.80" stroke="#000" stroke-width="1.2"/>
<line x1="492.81" y1="577.20" x2="492.81" y2="579.80" stroke="#000" stroke-width="1.2"/>
<line x1="498.03" y1="577.20" x2="498.03" y2="579.80" stroke="#000" stroke-width="1.2"/>
<line x1="503.25" y1="577.20" x2="503.25" y2="581.70" stroke="#000" stroke-width="1.5"/>
<text x="369.81" y="594.50" font-size="9.72" textLength="5.84" lengthAdjust="spacingAndGlyphs" fill="#231f20">0</text>
<text x="393.00" y="594.50" font-size="9.72" textLength="11.67" lengthAdjust="spacingAndGlyphs" fill="#231f20">30</text>
<text x="419.05" y="594.50" font-size="9.72" textLength="11.67" lengthAdjust="spacingAndGlyphs" fill="#231f20">60</text>
<text x="445.17" y="594.50" font-size="9.72" textLength="11.67" lengthAdjust="spacingAndGlyphs" fill="#231f20">90</text>
<text x="468.20" y="594.50" font-size="9.72" textLength="17.51" lengthAdjust="spacingAndGlyphs" fill="#231f20">120</text>
<text x="494.30" y="594.50" font-size="9.72" textLength="17.51" lengthAdjust="spacingAndGlyphs" fill="#231f20">150</text>
<text x="406.72" y="505.41" font-size="9.30" textLength="30.10" lengthAdjust="spacingAndGlyphs" fill="#231f20">CD154</text>
<text x="406.61" y="516.41" font-size="8.98" textLength="39.89" lengthAdjust="spacingAndGlyphs" fill="#231f20">siDOCK2</text>
<text x="408.42" y="537.60" font-size="9.58" textLength="18.82" lengthAdjust="spacingAndGlyphs" fill="#231f20">35%</text>
<polyline points="393.50,719.00 400.40,718.00 405.60,716.50 409.00,715.80 412.50,716.20 416.00,714.80 419.40,712.70 422.00,711.00 424.60,709.20 427.20,707.20 428.90,706.10 431.20,707.50 432.90,704.90 434.70,702.30 435.90,700.20 437.10,704.00 438.50,702.30 440.20,701.40 441.40,699.70 443.00,701.00 445.00,699.20 447.00,701.50 448.80,703.20 450.60,701.40 452.00,704.00 453.20,702.30 454.90,706.60 456.60,704.00 458.40,702.30 460.60,701.40 462.70,704.00 464.40,701.40 466.20,700.60 466.80,697.80 467.60,697.00 468.50,698.60 470.00,690.00 471.70,682.50 474.00,670.00 476.50,658.30 479.00,642.00 480.50,629.30 481.40,623.60 482.20,626.00 483.00,606.70 483.80,621.20 484.60,637.00 485.40,670.00 486.20,702.00 487.00,718.90" fill="none" stroke="#92113a" stroke-width="1.5" stroke-linejoin="round"/>
<path d="M403.50,718.90 L403.50,718.90 L403.75,718.90 L404.00,718.90 L404.25,718.89 L404.50,718.88 L404.75,718.86 L405.00,718.83 L405.25,718.80 L405.50,718.75 L405.75,718.70 L406.00,718.63 L406.25,718.54 L406.50,718.43 L406.75,718.36 L407.00,718.28 L407.25,718.20 L407.50,718.10 L407.75,718.00 L408.00,717.90 L408.25,717.78 L408.50,717.66 L408.75,717.54 L409.00,717.42 L409.25,717.29 L409.50,717.16 L409.75,717.03 L410.00,716.91 L410.25,716.79 L410.50,716.68 L410.75,716.58 L411.00,716.48 L411.25,716.40 L411.50,716.33 L411.75,716.27 L412.00,716.23 L412.25,716.21 L412.50,716.20 L412.75,716.21 L413.00,716.23 L413.25,716.27 L413.50,716.33 L413.75,716.40 L414.00,716.48 L414.25,716.58 L414.50,716.68 L414.75,716.79 L415.00,716.91 L415.25,717.03 L415.50,717.16 L415.75,717.29 L416.00,717.42 L416.25,717.54 L416.50,717.66 L416.75,717.78 L417.00,717.90 L417.25,718.00 L417.50,718.10 L417.75,718.20 L418.00,718.28 L418.25,718.36 L418.50,718.43 L418.75,718.52 L419.00,718.61 L419.25,718.68 L419.50,718.74 L419.75,718.79 L420.00,718.82 L420.25,718.85 L420.50,718.87 L420.75,718.89 L421.00,718.90 L421.25,718.90 L421.50,718.90 L421.50,718.90 Z" fill="#6f9fd8"/>
<path d="M416.50,718.90 L416.50,718.90 L416.75,718.90 L417.00,718.90 L417.25,718.89 L417.50,718.88 L417.75,718.86 L418.00,718.82 L418.25,718.78 L418.50,718.71 L418.75,718.62 L419.00,718.50 L419.25,718.34 L419.50,718.14 L419.75,717.97 L420.00,717.78 L420.25,717.55 L420.50,717.30 L420.75,717.02 L421.00,716.70 L421.25,716.35 L421.50,715.97 L421.75,715.56 L422.00,715.12 L422.25,714.65 L422.50,714.17 L422.75,713.66 L423.00,713.14 L423.25,712.61 L423.50,712.08 L423.75,711.55 L424.00,711.02 L424.25,710.51 L424.50,710.02 L424.75,709.55 L425.00,709.11 L425.25,708.70 L425.50,708.32 L425.75,707.98 L426.00,707.68 L426.25,707.42 L426.50,707.20 L426.75,707.02 L427.00,706.88 L427.25,706.77 L427.50,706.69 L427.75,706.64 L428.00,706.61 L428.25,706.60 L428.50,706.60 L428.75,706.61 L429.00,706.63 L429.25,706.68 L429.50,706.75 L429.75,706.85 L430.00,706.99 L430.25,707.16 L430.50,707.38 L430.75,707.63 L431.00,707.92 L431.25,708.25 L431.50,708.62 L431.75,709.02 L432.00,709.46 L432.25,709.92 L432.50,710.41 L432.75,710.92 L433.00,711.44 L433.25,711.97 L433.50,712.50 L433.75,713.03 L434.00,713.56 L434.25,714.07 L434.50,714.56 L434.75,715.03 L435.00,715.47 L435.25,715.89 L435.50,716.28 L435.75,716.63 L436.00,716.96 L436.25,717.41 L436.50,717.78 L436.75,718.08 L437.00,718.32 L437.25,718.50 L437.50,718.64 L437.75,718.74 L438.00,718.82 L438.25,718.87 L438.50,718.90 L438.75,718.90 L439.00,718.90 L439.00,718.90 Z" fill="#d4117f"/>
<path d="M434.00,718.90 L434.00,718.90 L434.25,718.90 L434.50,718.90 L434.75,718.83 L435.00,718.73 L435.25,718.60 L435.50,718.43 L435.75,718.22 L436.00,717.96 L436.25,717.64 L436.50,717.25 L436.75,716.79 L437.00,716.23 L437.25,715.88 L437.50,715.50 L437.75,715.09 L438.00,714.64 L438.25,714.16 L438.50,713.64 L438.75,713.09 L439.00,712.50 L439.25,711.89 L439.50,711.25 L439.75,710.57 L440.00,709.88 L440.25,709.17 L440.50,708.44 L440.75,707.70 L441.00,706.95 L441.25,706.21 L441.50,705.47 L441.75,704.74 L442.00,704.03 L442.25,703.35 L442.50,702.70 L442.75,702.08 L443.00,701.51 L443.25,701.00 L443.50,700.54 L443.75,700.14 L444.00,699.81 L444.25,699.54 L444.50,699.35 L444.75,699.24 L445.00,699.20 L445.25,699.24 L445.50,699.35 L445.75,699.54 L446.00,699.81 L446.25,700.14 L446.50,700.54 L446.75,701.00 L447.00,701.51 L447.25,702.08 L447.50,702.70 L447.75,703.35 L448.00,704.03 L448.25,704.74 L448.50,705.47 L448.75,706.21 L449.00,706.95 L449.25,707.70 L449.50,708.44 L449.75,709.17 L450.00,709.88 L450.25,710.57 L450.50,711.25 L450.75,711.89 L451.00,712.50 L451.25,713.09 L451.50,713.64 L451.75,714.16 L452.00,714.64 L452.25,715.09 L452.50,715.50 L452.75,715.88 L453.00,716.23 L453.25,716.79 L453.50,717.25 L453.75,717.64 L454.00,717.96 L454.25,718.22 L454.50,718.43 L454.75,718.60 L455.00,718.73 L455.25,718.83 L455.50,718.90 L455.75,718.90 L456.00,718.90 L456.00,718.90 Z" fill="#69b23c"/>
<path d="M450.50,718.90 L450.50,718.90 L450.75,718.90 L451.00,718.90 L451.25,718.79 L451.50,718.64 L451.75,718.45 L452.00,718.21 L452.25,717.91 L452.50,717.55 L452.75,717.11 L453.00,716.60 L453.25,715.99 L453.50,715.28 L453.75,714.86 L454.00,714.41 L454.25,713.94 L454.50,713.43 L454.75,712.89 L455.00,712.33 L455.25,711.75 L455.50,711.14 L455.75,710.51 L456.00,709.87 L456.25,709.21 L456.50,708.55 L456.75,707.89 L457.00,707.23 L457.25,706.58 L457.50,705.94 L457.75,705.32 L458.00,704.73 L458.25,704.17 L458.50,703.65 L458.75,703.18 L459.00,702.75 L459.25,702.37 L459.50,702.05 L459.75,701.79 L460.00,701.60 L460.25,701.47 L460.50,701.41 L460.75,701.41 L461.00,701.49 L461.25,701.63 L461.50,701.84 L461.75,702.11 L462.00,702.44 L462.25,702.83 L462.50,703.27 L462.75,703.75 L463.00,704.28 L463.25,704.85 L463.50,705.44 L463.75,706.07 L464.00,706.71 L464.25,707.36 L464.50,708.02 L464.75,708.68 L465.00,709.34 L465.25,710.00 L465.50,710.64 L465.75,711.26 L466.00,711.86 L466.25,712.45 L466.50,713.00 L466.75,713.53 L467.00,714.03 L467.25,714.51 L467.50,714.95 L467.75,715.36 L468.00,715.74 L468.25,716.09 L468.50,716.41 L468.75,716.75 L469.00,717.20 L469.25,717.58 L469.50,717.90 L469.75,718.16 L470.00,718.37 L470.25,718.54 L470.50,718.67 L470.75,718.77 L471.00,718.85 L471.25,718.90 L471.50,718.90 L471.50,718.90 Z" fill="#eb961f"/>
<path d="M465.50,718.90 L465.50,718.90 L465.75,718.90 L466.00,718.90 L466.25,718.38 L466.50,717.74 L466.75,716.99 L467.00,716.10 L467.25,715.06 L467.50,713.85 L467.75,712.45 L468.00,710.86 L468.25,709.05 L468.50,706.99 L468.75,705.97 L469.00,704.90 L469.25,703.76 L469.50,702.56 L469.75,701.29 L470.00,699.97 L470.25,698.58 L470.50,697.14 L470.75,695.64 L471.00,694.09 L471.25,692.48 L471.50,690.83 L471.75,689.13 L472.00,687.40 L472.25,685.63 L472.50,683.84 L472.75,682.02 L473.00,680.20 L473.25,678.37 L473.50,676.55 L473.75,674.75 L474.00,672.96 L474.25,671.22 L474.50,669.52 L474.75,667.88 L475.00,666.32 L475.25,664.83 L475.50,663.44 L475.75,662.16 L476.00,661.00 L476.25,659.98 L476.50,659.11 L476.75,658.40 L477.00,657.88 L477.25,657.56 L477.50,657.54 L477.75,657.88 L478.00,658.50 L478.25,659.36 L478.50,660.43 L478.75,661.70 L479.00,663.13 L479.25,664.70 L479.50,666.41 L479.75,668.22 L480.00,670.13 L480.25,672.10 L480.50,674.14 L480.75,676.21 L481.00,678.30 L481.25,680.40 L481.50,682.50 L481.75,684.57 L482.00,686.62 L482.25,688.63 L482.50,690.59 L482.75,692.50 L483.00,694.34 L483.25,696.11 L483.50,697.81 L483.75,699.44 L484.00,700.98 L484.25,702.44 L484.50,703.83 L484.75,705.13 L485.00,706.35 L485.25,707.49 L485.50,708.55 L485.75,709.54 L486.00,710.45 L486.25,711.29 L486.50,712.07 L486.75,713.39 L487.00,714.52 L487.25,715.48 L487.50,716.29 L487.75,716.97 L488.00,717.53 L488.25,717.99 L488.50,718.37 L488.75,718.67 L489.00,718.90 L489.25,718.90 L489.50,718.90 L489.50,718.90 Z" fill="#2d4a8a"/>
<line x1="372.75" y1="601.80" x2="372.75" y2="723.40" stroke="#000" stroke-width="1.7"/>
<line x1="367.95" y1="718.90" x2="506.00" y2="718.90" stroke="#000" stroke-width="1.7"/>
<line x1="367.95" y1="718.90" x2="372.75" y2="718.90" stroke="#000" stroke-width="1.5"/>
<line x1="370.35" y1="714.22" x2="372.75" y2="714.22" stroke="#000" stroke-width="1.2"/>
<line x1="370.35" y1="709.54" x2="372.75" y2="709.54" stroke="#000" stroke-width="1.2"/>
<line x1="370.35" y1="704.86" x2="372.75" y2="704.86" stroke="#000" stroke-width="1.2"/>
<line x1="370.35" y1="700.18" x2="372.75" y2="700.18" stroke="#000" stroke-width="1.2"/>
<line x1="367.95" y1="695.50" x2="372.75" y2="695.50" stroke="#000" stroke-width="1.5"/>
<line x1="370.35" y1="690.82" x2="372.75" y2="690.82" stroke="#000" stroke-width="1.2"/>
<line x1="370.35" y1="686.14" x2="372.75" y2="686.14" stroke="#000" stroke-width="1.2"/>
<line x1="370.35" y1="681.46" x2="372.75" y2="681.46" stroke="#000" stroke-width="1.2"/>
<line x1="370.35" y1="676.78" x2="372.75" y2="676.78" stroke="#000" stroke-width="1.2"/>
<line x1="367.95" y1="672.10" x2="372.75" y2="672.10" stroke="#000" stroke-width="1.5"/>
<line x1="370.35" y1="667.42" x2="372.75" y2="667.42" stroke="#000" stroke-width="1.2"/>
<line x1="370.35" y1="662.74" x2="372.75" y2="662.74" stroke="#000" stroke-width="1.2"/>
<line x1="370.35" y1="658.06" x2="372.75" y2="658.06" stroke="#000" stroke-width="1.2"/>
<line x1="370.35" y1="653.38" x2="372.75" y2="653.38" stroke="#000" stroke-width="1.2"/>
<line x1="367.95" y1="648.70" x2="372.75" y2="648.70" stroke="#000" stroke-width="1.5"/>
<line x1="370.35" y1="644.02" x2="372.75" y2="644.02" stroke="#000" stroke-width="1.2"/>
<line x1="370.35" y1="639.34" x2="372.75" y2="639.34" stroke="#000" stroke-width="1.2"/>
<line x1="370.35" y1="634.66" x2="372.75" y2="634.66" stroke="#000" stroke-width="1.2"/>
<line x1="370.35" y1="629.98" x2="372.75" y2="629.98" stroke="#000" stroke-width="1.2"/>
<line x1="367.95" y1="625.30" x2="372.75" y2="625.30" stroke="#000" stroke-width="1.5"/>
<line x1="370.35" y1="620.62" x2="372.75" y2="620.62" stroke="#000" stroke-width="1.2"/>
<line x1="370.35" y1="615.94" x2="372.75" y2="615.94" stroke="#000" stroke-width="1.2"/>
<line x1="370.35" y1="611.26" x2="372.75" y2="611.26" stroke="#000" stroke-width="1.2"/>
<line x1="370.35" y1="606.58" x2="372.75" y2="606.58" stroke="#000" stroke-width="1.2"/>
<text x="357.84" y="722.15" font-size="9.72" textLength="5.84" lengthAdjust="spacingAndGlyphs" fill="#231f20">0</text>
<text x="352.02" y="698.75" font-size="9.72" textLength="11.67" lengthAdjust="spacingAndGlyphs" fill="#231f20">50</text>
<text x="346.19" y="675.35" font-size="9.72" textLength="17.51" lengthAdjust="spacingAndGlyphs" fill="#231f20">100</text>
<text x="346.19" y="651.95" font-size="9.72" textLength="17.51" lengthAdjust="spacingAndGlyphs" fill="#231f20">150</text>
<text x="346.19" y="628.55" font-size="9.72" textLength="17.51" lengthAdjust="spacingAndGlyphs" fill="#231f20">200</text>
<line x1="372.75" y1="718.90" x2="372.75" y2="723.40" stroke="#000" stroke-width="1.5"/>
<line x1="377.97" y1="718.90" x2="377.97" y2="721.50" stroke="#000" stroke-width="1.2"/>
<line x1="383.19" y1="718.90" x2="383.19" y2="721.50" stroke="#000" stroke-width="1.2"/>
<line x1="388.41" y1="718.90" x2="388.41" y2="721.50" stroke="#000" stroke-width="1.2"/>
<line x1="393.63" y1="718.90" x2="393.63" y2="721.50" stroke="#000" stroke-width="1.2"/>
<line x1="398.85" y1="718.90" x2="398.85" y2="723.40" stroke="#000" stroke-width="1.5"/>
<line x1="404.07" y1="718.90" x2="404.07" y2="721.50" stroke="#000" stroke-width="1.2"/>
<line x1="409.29" y1="718.90" x2="409.29" y2="721.50" stroke="#000" stroke-width="1.2"/>
<line x1="414.51" y1="718.90" x2="414.51" y2="721.50" stroke="#000" stroke-width="1.2"/>
<line x1="419.73" y1="718.90" x2="419.73" y2="721.50" stroke="#000" stroke-width="1.2"/>
<line x1="424.95" y1="718.90" x2="424.95" y2="723.40" stroke="#000" stroke-width="1.5"/>
<line x1="430.17" y1="718.90" x2="430.17" y2="721.50" stroke="#000" stroke-width="1.2"/>
<line x1="435.39" y1="718.90" x2="435.39" y2="721.50" stroke="#000" stroke-width="1.2"/>
<line x1="440.61" y1="718.90" x2="440.61" y2="721.50" stroke="#000" stroke-width="1.2"/>
<line x1="445.83" y1="718.90" x2="445.83" y2="721.50" stroke="#000" stroke-width="1.2"/>
<line x1="451.05" y1="718.90" x2="451.05" y2="723.40" stroke="#000" stroke-width="1.5"/>
<line x1="456.27" y1="718.90" x2="456.27" y2="721.50" stroke="#000" stroke-width="1.2"/>
<line x1="461.49" y1="718.90" x2="461.49" y2="721.50" stroke="#000" stroke-width="1.2"/>
<line x1="466.71" y1="718.90" x2="466.71" y2="721.50" stroke="#000" stroke-width="1.2"/>
<line x1="471.93" y1="718.90" x2="471.93" y2="721.50" stroke="#000" stroke-width="1.2"/>
<line x1="477.15" y1="718.90" x2="477.15" y2="723.40" stroke="#000" stroke-width="1.5"/>
<line x1="482.37" y1="718.90" x2="482.37" y2="721.50" stroke="#000" stroke-width="1.2"/>
<line x1="487.59" y1="718.90" x2="487.59" y2="721.50" stroke="#000" stroke-width="1.2"/>
<line x1="492.81" y1="718.90" x2="492.81" y2="721.50" stroke="#000" stroke-width="1.2"/>
<line x1="498.03" y1="718.90" x2="498.03" y2="721.50" stroke="#000" stroke-width="1.2"/>
<line x1="503.25" y1="718.90" x2="503.25" y2="723.40" stroke="#000" stroke-width="1.5"/>
<text x="369.81" y="736.20" font-size="9.72" textLength="5.84" lengthAdjust="spacingAndGlyphs" fill="#231f20">0</text>
<text x="393.00" y="736.20" font-size="9.72" textLength="11.67" lengthAdjust="spacingAndGlyphs" fill="#231f20">30</text>
<text x="419.05" y="736.20" font-size="9.72" textLength="11.67" lengthAdjust="spacingAndGlyphs" fill="#231f20">60</text>
<text x="445.17" y="736.20" font-size="9.72" textLength="11.67" lengthAdjust="spacingAndGlyphs" fill="#231f20">90</text>
<text x="468.20" y="736.20" font-size="9.72" textLength="17.51" lengthAdjust="spacingAndGlyphs" fill="#231f20">120</text>
<text x="494.30" y="736.20" font-size="9.72" textLength="17.51" lengthAdjust="spacingAndGlyphs" fill="#231f20">150</text>
<text x="406.02" y="623.71" font-size="9.30" textLength="30.10" lengthAdjust="spacingAndGlyphs" fill="#231f20">CD154</text>
<text x="406.01" y="635.51" font-size="8.98" textLength="39.69" lengthAdjust="spacingAndGlyphs" fill="#231f20">siDOCK2</text>
<text x="406.45" y="645.81" font-size="9.29" textLength="27.65" lengthAdjust="spacingAndGlyphs" fill="#231f20">Wnt5a</text>
<text x="407.83" y="679.00" font-size="9.58" textLength="18.30" lengthAdjust="spacingAndGlyphs" fill="#231f20">38%</text>
<line x1="338.40" y1="72.00" x2="338.40" y2="745.10" stroke="#000" stroke-width="1.8"/>
<line x1="337.50" y1="745.10" x2="483.00" y2="745.10" stroke="#000" stroke-width="1.9"/>
<path d="M338.4,61.8 L343.1,72.8 L338.4,71.1 L333.7,72.8 Z" fill="#000"/>
<path d="M492.6,745.1 L481.4,740.4 L483.2,745.1 L481.4,749.8 Z" fill="#000"/>
<text transform="translate(331.00,717.35) rotate(-90)" x="0" y="0" font-size="15.94" textLength="35.02" lengthAdjust="spacingAndGlyphs" fill="#231f20">Counts</text>
<text x="373.04" y="762.55" font-size="15.35" textLength="24.34" lengthAdjust="spacingAndGlyphs" fill="#231f20">CFSE</text>
<rect x="1" y="1" width="518" height="774" fill="none" stroke="#000" stroke-width="2.2"/>
</svg></body></html>
